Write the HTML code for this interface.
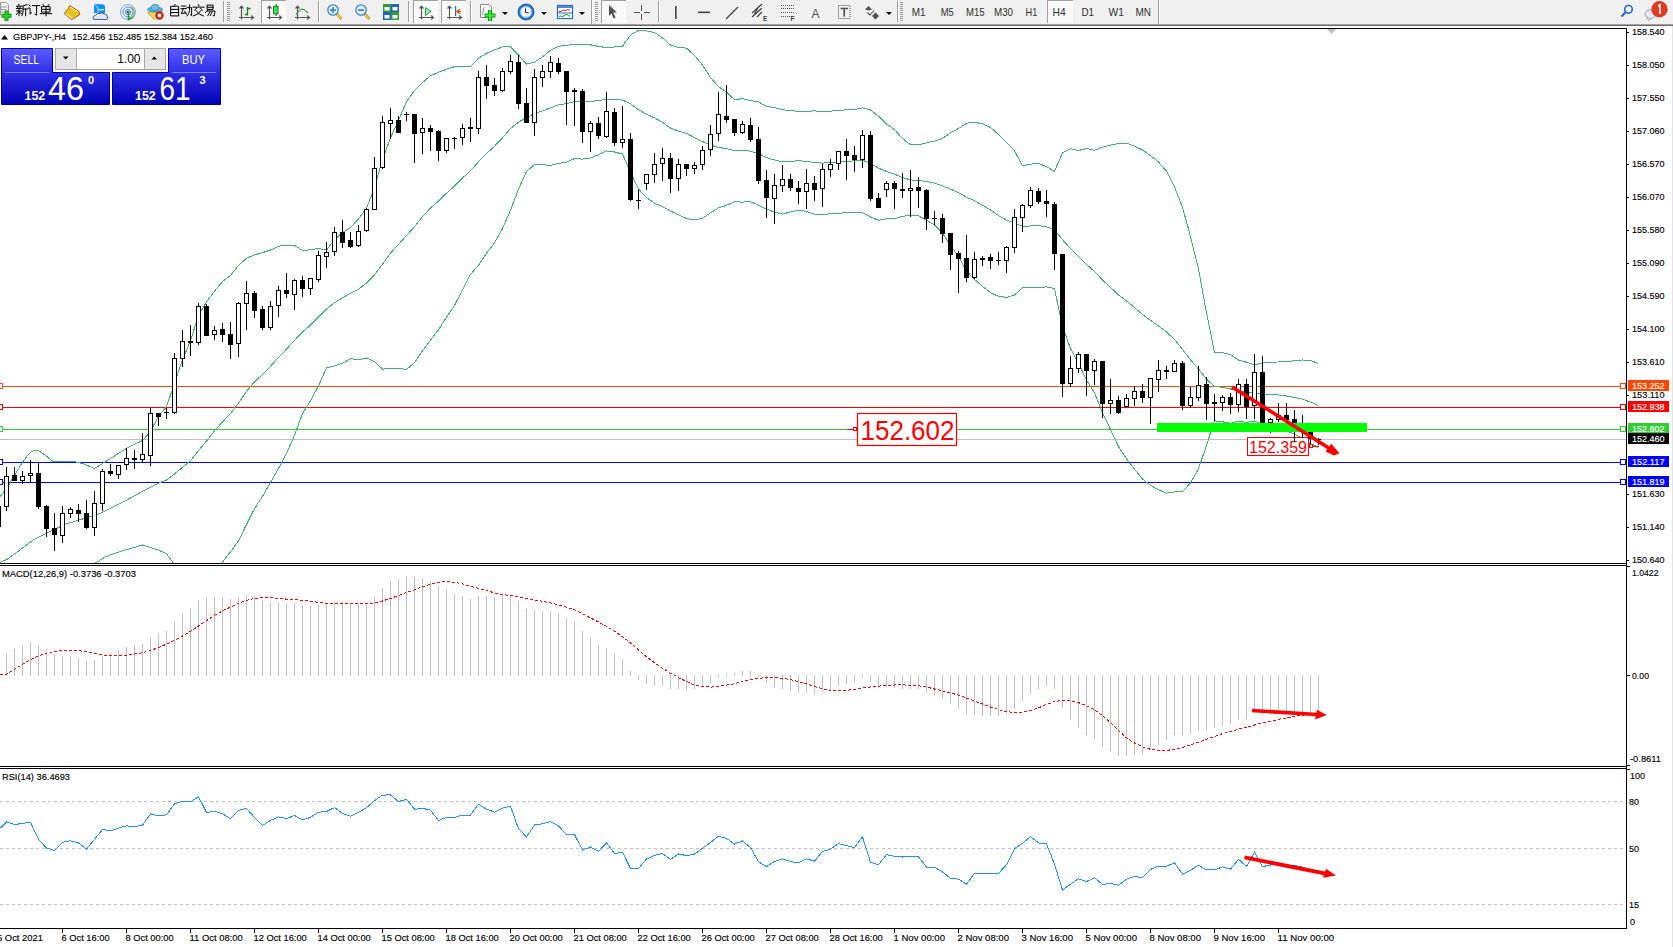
<!DOCTYPE html>
<html><head><meta charset="utf-8"><style>
html,body{margin:0;padding:0;width:1673px;height:947px;overflow:hidden;background:#fff;}
#root{position:relative;width:1673px;height:947px;}
svg{position:absolute;left:0;top:0;}
</style></head><body><div id="root">
<svg width="1673" height="947" viewBox="0 0 1673 947">
<rect x="0" y="0" width="1673" height="947" fill="#ffffff"/>
<defs><clipPath id="cm"><rect x="0" y="29" width="1626" height="534"/></clipPath><clipPath id="cmacd"><rect x="0" y="566" width="1626" height="200"/></clipPath><clipPath id="crsi"><rect x="0" y="769" width="1626" height="159"/></clipPath></defs>
<g clip-path="url(#cm)">
<rect x="0" y="439" width="1626" height="1" fill="#c0c0c0"/>
<rect x="0" y="386" width="1626" height="1" fill="#ff4500"/>
<rect x="-2.5" y="383.5" width="5" height="5" fill="#fff" stroke="#ff4500" stroke-width="1"/>
<rect x="1620.5" y="383.5" width="5" height="5" fill="#fff" stroke="#ff4500" stroke-width="1"/>
<rect x="0" y="407" width="1626" height="1" fill="#ff0000"/>
<rect x="-2.5" y="404.5" width="5" height="5" fill="#fff" stroke="#ff0000" stroke-width="1"/>
<rect x="1620.5" y="404.5" width="5" height="5" fill="#fff" stroke="#ff0000" stroke-width="1"/>
<rect x="0" y="429" width="1626" height="1" fill="#32cd32"/>
<rect x="-2.5" y="426.5" width="5" height="5" fill="#fff" stroke="#32cd32" stroke-width="1"/>
<rect x="1620.5" y="426.5" width="5" height="5" fill="#fff" stroke="#32cd32" stroke-width="1"/>
<rect x="0" y="462" width="1626" height="1" fill="#0000ff"/>
<rect x="-2.5" y="459.5" width="5" height="5" fill="#fff" stroke="#0000ff" stroke-width="1"/>
<rect x="1620.5" y="459.5" width="5" height="5" fill="#fff" stroke="#0000ff" stroke-width="1"/>
<rect x="0" y="482" width="1626" height="1" fill="#0000ff"/>
<rect x="-2.5" y="479.5" width="5" height="5" fill="#fff" stroke="#0000ff" stroke-width="1"/>
<rect x="1620.5" y="479.5" width="5" height="5" fill="#fff" stroke="#0000ff" stroke-width="1"/>
<polyline points="0.0,497.0 10.0,483.0 20.0,466.0 26.6,456.5 31.7,451.4 37.4,450.1 41.8,452.7 53.2,461.5 66.0,461.5 74.8,461.8 82.4,463.4 94.4,468.5 105.0,462.0 127.0,448.0 142.6,440.5 150.0,432.0 158.5,416.4 166.5,406.6 174.5,383.4 182.5,360.0 190.5,340.7 198.5,315.4 206.5,302.0 214.5,291.0 222.5,281.6 230.5,275.6 238.5,265.2 246.5,258.3 254.5,254.8 262.5,252.7 270.5,250.0 278.5,246.3 286.5,245.1 294.5,245.3 302.5,250.5 310.5,249.8 318.5,248.5 326.5,250.2 334.5,239.7 342.5,232.4 350.5,227.5 358.5,218.9 366.5,208.0 374.5,188.0 382.5,159.4 390.5,137.7 398.5,120.4 406.5,101.7 414.5,90.6 422.5,82.6 430.5,75.7 438.5,72.3 446.5,69.2 454.5,66.7 462.5,66.2 470.5,66.8 478.5,58.1 486.5,53.5 494.5,49.9 502.5,46.9 510.5,46.9 518.5,55.1 526.5,64.2 534.5,62.2 542.5,56.8 550.5,50.3 558.5,46.4 566.5,45.2 574.5,44.6 582.5,44.4 590.5,44.8 598.5,46.4 606.5,47.6 614.5,47.0 622.5,46.1 630.5,35.1 638.5,30.4 646.5,30.9 654.5,32.5 662.5,37.9 670.5,45.1 678.5,47.4 686.5,48.2 694.5,55.5 702.5,65.0 710.5,77.5 718.5,86.7 726.5,92.0 734.5,99.7 742.5,98.6 750.5,100.7 758.5,101.8 766.5,106.4 774.5,107.5 782.5,109.7 790.5,110.6 798.5,111.4 806.5,111.2 814.5,110.9 822.5,111.4 830.5,111.2 838.5,110.4 846.5,109.8 854.5,109.6 862.5,107.9 870.5,110.0 878.5,116.2 886.5,123.9 894.5,129.6 902.5,138.6 910.5,144.7 918.5,144.8 926.5,142.8 934.5,141.1 942.5,138.4 950.5,132.9 958.5,128.5 966.5,123.3 974.5,122.1 982.5,123.9 990.5,127.4 998.5,134.6 1006.5,142.8 1014.5,150.7 1022.5,165.6 1030.5,164.2 1038.5,163.4 1046.5,166.6 1054.5,171.3 1062.5,153.0 1070.5,148.6 1078.5,150.5 1086.5,148.5 1094.5,150.3 1102.5,147.2 1110.5,145.1 1118.5,143.4 1126.5,143.1 1134.5,146.2 1142.5,150.0 1150.5,155.6 1158.5,162.0 1166.5,171.2 1174.5,186.8 1182.5,207.3 1190.5,236.7 1198.5,269.1 1206.5,312.7 1214.5,352.2 1222.5,352.5 1230.5,354.6 1238.5,360.0 1246.5,362.3 1254.5,364.8 1262.5,363.0 1270.5,362.1 1278.5,362.0 1286.5,361.3 1294.5,360.9 1302.5,360.0 1310.5,360.5 1318.5,363.5" fill="none" stroke="#3cb371" stroke-width="1" shape-rendering="crispEdges"/>
<polyline points="0.0,562.6 7.6,559.0 33.2,540.0 64.5,524.5 90.0,516.7 101.6,512.8 125.0,501.0 145.0,490.0 158.5,483.2 166.5,480.1 174.5,474.0 182.5,467.2 190.5,460.7 198.5,450.7 206.5,441.0 214.5,430.8 222.5,421.9 230.5,413.6 238.5,403.1 246.5,391.4 254.5,381.8 262.5,374.6 270.5,366.2 278.5,357.4 286.5,349.2 294.5,340.3 302.5,332.0 310.5,325.2 318.5,317.1 326.5,309.1 334.5,302.8 342.5,297.8 350.5,293.1 358.5,289.3 366.5,283.0 374.5,274.8 382.5,264.2 390.5,253.0 398.5,244.5 406.5,235.5 414.5,226.7 422.5,216.7 430.5,208.0 438.5,201.0 446.5,193.2 454.5,186.1 462.5,178.1 470.5,170.6 478.5,161.7 486.5,153.4 494.5,146.3 502.5,137.8 510.5,128.5 518.5,122.1 526.5,117.8 534.5,113.3 542.5,110.8 550.5,107.9 558.5,104.8 566.5,103.7 574.5,101.6 582.5,101.8 590.5,101.3 598.5,100.6 606.5,99.3 614.5,99.5 622.5,100.1 630.5,103.6 638.5,109.8 646.5,114.2 654.5,117.9 662.5,122.2 670.5,128.1 678.5,131.1 686.5,133.3 694.5,137.7 702.5,141.6 710.5,145.2 718.5,147.3 726.5,148.7 734.5,150.7 742.5,150.4 750.5,151.2 758.5,153.4 766.5,157.7 774.5,159.9 782.5,161.9 790.5,161.3 798.5,160.8 806.5,161.3 814.5,162.6 822.5,163.1 830.5,162.4 838.5,161.8 846.5,161.2 854.5,160.9 862.5,160.2 870.5,163.5 878.5,168.2 886.5,171.4 894.5,174.2 902.5,177.5 910.5,179.9 918.5,180.4 926.5,181.4 934.5,183.1 942.5,185.8 950.5,189.2 958.5,192.5 966.5,197.2 974.5,200.7 982.5,205.2 990.5,210.0 998.5,215.5 1006.5,220.1 1014.5,222.9 1022.5,226.4 1030.5,226.0 1038.5,225.7 1046.5,226.7 1054.5,229.9 1062.5,239.6 1070.5,248.6 1078.5,256.7 1086.5,264.4 1094.5,271.5 1102.5,280.0 1110.5,287.3 1118.5,295.0 1126.5,301.0 1134.5,307.6 1142.5,314.5 1150.5,320.4 1158.5,325.9 1166.5,332.1 1174.5,339.4 1182.5,349.4 1190.5,359.8 1198.5,369.0 1206.5,379.0 1214.5,386.5 1222.5,387.2 1230.5,389.0 1238.5,390.6 1246.5,392.3 1254.5,392.9 1262.5,393.9 1270.5,394.8 1278.5,394.9 1286.5,396.0 1294.5,397.5 1302.5,399.1 1310.5,402.1 1318.5,405.5" fill="none" stroke="#3cb371" stroke-width="1" shape-rendering="crispEdges"/>
<polyline points="93.8,564.0 105.5,556.8 120.0,551.5 142.6,545.0 158.5,550.1 166.5,553.6 174.5,564.5 182.5,574.4 190.5,580.7 198.5,586.0 206.5,580.0 214.5,570.6 222.5,562.2 230.5,551.7 238.5,541.0 246.5,524.4 254.5,508.7 262.5,496.5 270.5,482.4 278.5,468.5 286.5,453.4 294.5,435.3 302.5,413.5 310.5,400.7 318.5,385.8 326.5,368.0 334.5,365.8 342.5,363.3 350.5,358.6 358.5,359.7 366.5,358.0 374.5,361.7 382.5,369.1 390.5,368.4 398.5,368.5 406.5,369.4 414.5,362.8 422.5,350.9 430.5,340.2 438.5,329.7 446.5,317.3 454.5,305.5 462.5,290.0 470.5,274.4 478.5,265.4 486.5,253.3 494.5,242.8 502.5,228.6 510.5,210.2 518.5,189.1 526.5,171.4 534.5,164.4 542.5,164.7 550.5,165.5 558.5,163.3 566.5,162.2 574.5,158.5 582.5,159.1 590.5,157.9 598.5,154.8 606.5,150.9 614.5,152.0 622.5,154.0 630.5,172.2 638.5,189.1 646.5,197.6 654.5,203.2 662.5,206.6 670.5,211.1 678.5,214.7 686.5,218.5 694.5,219.9 702.5,218.2 710.5,212.9 718.5,207.9 726.5,205.4 734.5,201.8 742.5,202.1 750.5,201.7 758.5,205.1 766.5,209.1 774.5,212.2 782.5,214.1 790.5,211.9 798.5,210.3 806.5,211.4 814.5,214.2 822.5,214.9 830.5,213.7 838.5,213.3 846.5,212.6 854.5,212.3 862.5,212.6 870.5,217.0 878.5,220.2 886.5,218.8 894.5,218.7 902.5,216.4 910.5,215.1 918.5,215.9 926.5,220.1 934.5,225.1 942.5,233.2 950.5,245.4 958.5,256.5 966.5,271.1 974.5,279.3 982.5,286.5 990.5,292.6 998.5,296.4 1006.5,297.3 1014.5,295.2 1022.5,287.3 1030.5,287.8 1038.5,287.9 1046.5,286.8 1054.5,288.6 1062.5,326.2 1070.5,348.6 1078.5,363.0 1086.5,380.2 1094.5,392.7 1102.5,412.8 1110.5,429.5 1118.5,446.6 1126.5,458.9 1134.5,469.1 1142.5,479.0 1150.5,485.3 1158.5,489.8 1166.5,493.1 1174.5,492.0 1182.5,491.6 1190.5,483.0 1198.5,468.9 1206.5,445.3 1214.5,420.8 1222.5,421.8 1230.5,423.4 1238.5,421.1 1246.5,422.4 1254.5,421.0 1262.5,424.7 1270.5,427.5 1278.5,427.8 1286.5,430.7 1294.5,434.2 1302.5,438.1 1310.5,443.6 1318.5,447.5" fill="none" stroke="#3cb371" stroke-width="1" shape-rendering="crispEdges"/>
<rect x="1247.5" y="437.5" width="61" height="18" fill="#fff" stroke="#ff0000" stroke-width="1"/>
<text x="1249" y="453" font-family="'Liberation Sans', sans-serif" font-size="16" fill="#ff0000" text-anchor="start" font-weight="normal" textLength="58" lengthAdjust="spacingAndGlyphs" >152.359</text>
<g shape-rendering="crispEdges">
<rect x="-2" y="500" width="1" height="30" fill="#000"/>
<rect x="-4" y="506" width="5" height="21" fill="#000"/>
<rect x="6" y="467" width="1" height="44" fill="#000"/>
<rect x="4" y="476" width="5" height="31" fill="#000"/>
<rect x="5" y="477" width="3" height="29" fill="#fff"/>
<rect x="14" y="467" width="1" height="14" fill="#000"/>
<rect x="12" y="475" width="5" height="6" fill="#000"/>
<rect x="22" y="471" width="1" height="13" fill="#000"/>
<rect x="20" y="476" width="5" height="5" fill="#000"/>
<rect x="21" y="477" width="3" height="3" fill="#fff"/>
<rect x="30" y="460" width="1" height="22" fill="#000"/>
<rect x="28" y="473" width="5" height="3" fill="#000"/>
<rect x="29" y="474" width="3" height="1" fill="#fff"/>
<rect x="38" y="462" width="1" height="47" fill="#000"/>
<rect x="36" y="473" width="5" height="34" fill="#000"/>
<rect x="46" y="505" width="1" height="32" fill="#000"/>
<rect x="44" y="506" width="5" height="23" fill="#000"/>
<rect x="54" y="513" width="1" height="38" fill="#000"/>
<rect x="52" y="528" width="5" height="7" fill="#000"/>
<rect x="62" y="506" width="1" height="37" fill="#000"/>
<rect x="60" y="513" width="5" height="23" fill="#000"/>
<rect x="61" y="514" width="3" height="21" fill="#fff"/>
<rect x="70" y="507" width="1" height="11" fill="#000"/>
<rect x="68" y="509" width="5" height="5" fill="#000"/>
<rect x="69" y="510" width="3" height="3" fill="#fff"/>
<rect x="78" y="504" width="1" height="18" fill="#000"/>
<rect x="76" y="510" width="5" height="4" fill="#000"/>
<rect x="86" y="500" width="1" height="29" fill="#000"/>
<rect x="84" y="513" width="5" height="15" fill="#000"/>
<rect x="94" y="491" width="1" height="45" fill="#000"/>
<rect x="92" y="503" width="5" height="25" fill="#000"/>
<rect x="93" y="504" width="3" height="23" fill="#fff"/>
<rect x="102" y="469" width="1" height="42" fill="#000"/>
<rect x="100" y="471" width="5" height="33" fill="#000"/>
<rect x="101" y="472" width="3" height="31" fill="#fff"/>
<rect x="110" y="464" width="1" height="12" fill="#000"/>
<rect x="108" y="471" width="5" height="3" fill="#000"/>
<rect x="118" y="465" width="1" height="14" fill="#000"/>
<rect x="116" y="465" width="5" height="10" fill="#000"/>
<rect x="117" y="466" width="3" height="8" fill="#fff"/>
<rect x="126" y="448" width="1" height="22" fill="#000"/>
<rect x="124" y="458" width="5" height="7" fill="#000"/>
<rect x="125" y="459" width="3" height="5" fill="#fff"/>
<rect x="134" y="450" width="1" height="19" fill="#000"/>
<rect x="132" y="458" width="5" height="2" fill="#000"/>
<rect x="142" y="433" width="1" height="30" fill="#000"/>
<rect x="140" y="454" width="5" height="6" fill="#000"/>
<rect x="141" y="455" width="3" height="4" fill="#fff"/>
<rect x="150" y="408" width="1" height="58" fill="#000"/>
<rect x="148" y="413" width="5" height="43" fill="#000"/>
<rect x="149" y="414" width="3" height="41" fill="#fff"/>
<rect x="158" y="413" width="1" height="13" fill="#000"/>
<rect x="156" y="413" width="5" height="4" fill="#000"/>
<rect x="166" y="408" width="1" height="11" fill="#000"/>
<rect x="164" y="412" width="5" height="1" fill="#000"/>
<rect x="174" y="353" width="1" height="61" fill="#000"/>
<rect x="172" y="358" width="5" height="55" fill="#000"/>
<rect x="173" y="359" width="3" height="53" fill="#fff"/>
<rect x="182" y="330" width="1" height="37" fill="#000"/>
<rect x="180" y="341" width="5" height="18" fill="#000"/>
<rect x="181" y="342" width="3" height="16" fill="#fff"/>
<rect x="190" y="325" width="1" height="31" fill="#000"/>
<rect x="188" y="341" width="5" height="2" fill="#000"/>
<rect x="198" y="303" width="1" height="42" fill="#000"/>
<rect x="196" y="306" width="5" height="37" fill="#000"/>
<rect x="197" y="307" width="3" height="35" fill="#fff"/>
<rect x="206" y="304" width="1" height="32" fill="#000"/>
<rect x="204" y="306" width="5" height="30" fill="#000"/>
<rect x="214" y="326" width="1" height="14" fill="#000"/>
<rect x="212" y="330" width="5" height="5" fill="#000"/>
<rect x="213" y="331" width="3" height="3" fill="#fff"/>
<rect x="222" y="323" width="1" height="19" fill="#000"/>
<rect x="220" y="329" width="5" height="6" fill="#000"/>
<rect x="230" y="322" width="1" height="37" fill="#000"/>
<rect x="228" y="334" width="5" height="11" fill="#000"/>
<rect x="238" y="302" width="1" height="55" fill="#000"/>
<rect x="236" y="303" width="5" height="41" fill="#000"/>
<rect x="237" y="304" width="3" height="39" fill="#fff"/>
<rect x="246" y="281" width="1" height="49" fill="#000"/>
<rect x="244" y="293" width="5" height="11" fill="#000"/>
<rect x="245" y="294" width="3" height="9" fill="#fff"/>
<rect x="254" y="291" width="1" height="27" fill="#000"/>
<rect x="252" y="293" width="5" height="18" fill="#000"/>
<rect x="262" y="306" width="1" height="24" fill="#000"/>
<rect x="260" y="309" width="5" height="19" fill="#000"/>
<rect x="270" y="301" width="1" height="29" fill="#000"/>
<rect x="268" y="306" width="5" height="22" fill="#000"/>
<rect x="269" y="307" width="3" height="20" fill="#fff"/>
<rect x="278" y="286" width="1" height="31" fill="#000"/>
<rect x="276" y="290" width="5" height="16" fill="#000"/>
<rect x="277" y="291" width="3" height="14" fill="#fff"/>
<rect x="286" y="273" width="1" height="25" fill="#000"/>
<rect x="284" y="290" width="5" height="4" fill="#000"/>
<rect x="294" y="279" width="1" height="31" fill="#000"/>
<rect x="292" y="280" width="5" height="15" fill="#000"/>
<rect x="293" y="281" width="3" height="13" fill="#fff"/>
<rect x="302" y="276" width="1" height="21" fill="#000"/>
<rect x="300" y="280" width="5" height="9" fill="#000"/>
<rect x="310" y="278" width="1" height="17" fill="#000"/>
<rect x="308" y="278" width="5" height="11" fill="#000"/>
<rect x="309" y="279" width="3" height="9" fill="#fff"/>
<rect x="318" y="251" width="1" height="31" fill="#000"/>
<rect x="316" y="255" width="5" height="25" fill="#000"/>
<rect x="317" y="256" width="3" height="23" fill="#fff"/>
<rect x="326" y="242" width="1" height="26" fill="#000"/>
<rect x="324" y="252" width="5" height="5" fill="#000"/>
<rect x="325" y="253" width="3" height="3" fill="#fff"/>
<rect x="334" y="227" width="1" height="29" fill="#000"/>
<rect x="332" y="232" width="5" height="20" fill="#000"/>
<rect x="333" y="233" width="3" height="18" fill="#fff"/>
<rect x="342" y="220" width="1" height="28" fill="#000"/>
<rect x="340" y="232" width="5" height="11" fill="#000"/>
<rect x="350" y="232" width="1" height="16" fill="#000"/>
<rect x="348" y="240" width="5" height="7" fill="#000"/>
<rect x="358" y="225" width="1" height="22" fill="#000"/>
<rect x="356" y="231" width="5" height="15" fill="#000"/>
<rect x="357" y="232" width="3" height="13" fill="#fff"/>
<rect x="366" y="208" width="1" height="24" fill="#000"/>
<rect x="364" y="209" width="5" height="22" fill="#000"/>
<rect x="365" y="210" width="3" height="20" fill="#fff"/>
<rect x="374" y="157" width="1" height="53" fill="#000"/>
<rect x="372" y="168" width="5" height="42" fill="#000"/>
<rect x="373" y="169" width="3" height="40" fill="#fff"/>
<rect x="382" y="116" width="1" height="53" fill="#000"/>
<rect x="380" y="122" width="5" height="46" fill="#000"/>
<rect x="381" y="123" width="3" height="44" fill="#fff"/>
<rect x="390" y="108" width="1" height="31" fill="#000"/>
<rect x="388" y="120" width="5" height="4" fill="#000"/>
<rect x="389" y="121" width="3" height="2" fill="#fff"/>
<rect x="398" y="116" width="1" height="17" fill="#000"/>
<rect x="396" y="120" width="5" height="13" fill="#000"/>
<rect x="406" y="112" width="1" height="9" fill="#000"/>
<rect x="404" y="114" width="5" height="1" fill="#000"/>
<rect x="414" y="114" width="1" height="49" fill="#000"/>
<rect x="412" y="114" width="5" height="20" fill="#000"/>
<rect x="422" y="118" width="1" height="36" fill="#000"/>
<rect x="420" y="128" width="5" height="5" fill="#000"/>
<rect x="421" y="129" width="3" height="3" fill="#fff"/>
<rect x="430" y="125" width="1" height="26" fill="#000"/>
<rect x="428" y="128" width="5" height="4" fill="#000"/>
<rect x="438" y="130" width="1" height="31" fill="#000"/>
<rect x="436" y="131" width="5" height="20" fill="#000"/>
<rect x="446" y="138" width="1" height="15" fill="#000"/>
<rect x="444" y="138" width="5" height="13" fill="#000"/>
<rect x="445" y="139" width="3" height="11" fill="#fff"/>
<rect x="454" y="137" width="1" height="12" fill="#000"/>
<rect x="452" y="138" width="5" height="1" fill="#000"/>
<rect x="462" y="124" width="1" height="21" fill="#000"/>
<rect x="460" y="128" width="5" height="10" fill="#000"/>
<rect x="461" y="129" width="3" height="8" fill="#fff"/>
<rect x="470" y="118" width="1" height="24" fill="#000"/>
<rect x="468" y="127" width="5" height="2" fill="#000"/>
<rect x="478" y="71" width="1" height="63" fill="#000"/>
<rect x="476" y="77" width="5" height="52" fill="#000"/>
<rect x="477" y="78" width="3" height="50" fill="#fff"/>
<rect x="486" y="65" width="1" height="34" fill="#000"/>
<rect x="484" y="77" width="5" height="9" fill="#000"/>
<rect x="494" y="78" width="1" height="18" fill="#000"/>
<rect x="492" y="85" width="5" height="6" fill="#000"/>
<rect x="502" y="68" width="1" height="24" fill="#000"/>
<rect x="500" y="71" width="5" height="20" fill="#000"/>
<rect x="501" y="72" width="3" height="18" fill="#fff"/>
<rect x="510" y="55" width="1" height="19" fill="#000"/>
<rect x="508" y="61" width="5" height="11" fill="#000"/>
<rect x="509" y="62" width="3" height="9" fill="#fff"/>
<rect x="518" y="55" width="1" height="54" fill="#000"/>
<rect x="516" y="62" width="5" height="42" fill="#000"/>
<rect x="526" y="88" width="1" height="35" fill="#000"/>
<rect x="524" y="103" width="5" height="20" fill="#000"/>
<rect x="534" y="69" width="1" height="67" fill="#000"/>
<rect x="532" y="77" width="5" height="46" fill="#000"/>
<rect x="533" y="78" width="3" height="44" fill="#fff"/>
<rect x="542" y="65" width="1" height="22" fill="#000"/>
<rect x="540" y="71" width="5" height="7" fill="#000"/>
<rect x="541" y="72" width="3" height="5" fill="#fff"/>
<rect x="550" y="56" width="1" height="22" fill="#000"/>
<rect x="548" y="62" width="5" height="10" fill="#000"/>
<rect x="549" y="63" width="3" height="8" fill="#fff"/>
<rect x="558" y="58" width="1" height="16" fill="#000"/>
<rect x="556" y="63" width="5" height="9" fill="#000"/>
<rect x="566" y="71" width="1" height="54" fill="#000"/>
<rect x="564" y="71" width="5" height="21" fill="#000"/>
<rect x="574" y="88" width="1" height="38" fill="#000"/>
<rect x="572" y="90" width="5" height="2" fill="#000"/>
<rect x="582" y="89" width="1" height="54" fill="#000"/>
<rect x="580" y="91" width="5" height="41" fill="#000"/>
<rect x="590" y="121" width="1" height="31" fill="#000"/>
<rect x="588" y="123" width="5" height="9" fill="#000"/>
<rect x="589" y="124" width="3" height="7" fill="#fff"/>
<rect x="598" y="117" width="1" height="22" fill="#000"/>
<rect x="596" y="123" width="5" height="13" fill="#000"/>
<rect x="606" y="92" width="1" height="46" fill="#000"/>
<rect x="604" y="111" width="5" height="26" fill="#000"/>
<rect x="605" y="112" width="3" height="24" fill="#fff"/>
<rect x="614" y="108" width="1" height="38" fill="#000"/>
<rect x="612" y="112" width="5" height="31" fill="#000"/>
<rect x="622" y="106" width="1" height="42" fill="#000"/>
<rect x="620" y="139" width="5" height="4" fill="#000"/>
<rect x="621" y="140" width="3" height="2" fill="#fff"/>
<rect x="630" y="133" width="1" height="68" fill="#000"/>
<rect x="628" y="139" width="5" height="61" fill="#000"/>
<rect x="638" y="190" width="1" height="19" fill="#000"/>
<rect x="636" y="200" width="5" height="1" fill="#000"/>
<rect x="646" y="174" width="1" height="16" fill="#000"/>
<rect x="644" y="174" width="5" height="10" fill="#000"/>
<rect x="645" y="175" width="3" height="8" fill="#fff"/>
<rect x="654" y="153" width="1" height="30" fill="#000"/>
<rect x="652" y="164" width="5" height="11" fill="#000"/>
<rect x="653" y="165" width="3" height="9" fill="#fff"/>
<rect x="662" y="148" width="1" height="33" fill="#000"/>
<rect x="660" y="158" width="5" height="6" fill="#000"/>
<rect x="661" y="159" width="3" height="4" fill="#fff"/>
<rect x="670" y="153" width="1" height="40" fill="#000"/>
<rect x="668" y="158" width="5" height="21" fill="#000"/>
<rect x="678" y="159" width="1" height="32" fill="#000"/>
<rect x="676" y="164" width="5" height="15" fill="#000"/>
<rect x="677" y="165" width="3" height="13" fill="#fff"/>
<rect x="686" y="164" width="1" height="12" fill="#000"/>
<rect x="684" y="164" width="5" height="5" fill="#000"/>
<rect x="694" y="162" width="1" height="12" fill="#000"/>
<rect x="692" y="165" width="5" height="4" fill="#000"/>
<rect x="693" y="166" width="3" height="2" fill="#fff"/>
<rect x="702" y="146" width="1" height="24" fill="#000"/>
<rect x="700" y="150" width="5" height="15" fill="#000"/>
<rect x="701" y="151" width="3" height="13" fill="#fff"/>
<rect x="710" y="125" width="1" height="31" fill="#000"/>
<rect x="708" y="134" width="5" height="16" fill="#000"/>
<rect x="709" y="135" width="3" height="14" fill="#fff"/>
<rect x="718" y="92" width="1" height="49" fill="#000"/>
<rect x="716" y="114" width="5" height="20" fill="#000"/>
<rect x="717" y="115" width="3" height="18" fill="#fff"/>
<rect x="726" y="85" width="1" height="38" fill="#000"/>
<rect x="724" y="116" width="5" height="4" fill="#000"/>
<rect x="734" y="119" width="1" height="17" fill="#000"/>
<rect x="732" y="119" width="5" height="14" fill="#000"/>
<rect x="742" y="121" width="1" height="13" fill="#000"/>
<rect x="740" y="124" width="5" height="9" fill="#000"/>
<rect x="741" y="125" width="3" height="7" fill="#fff"/>
<rect x="750" y="118" width="1" height="24" fill="#000"/>
<rect x="748" y="125" width="5" height="15" fill="#000"/>
<rect x="758" y="127" width="1" height="57" fill="#000"/>
<rect x="756" y="139" width="5" height="42" fill="#000"/>
<rect x="766" y="170" width="1" height="48" fill="#000"/>
<rect x="764" y="180" width="5" height="18" fill="#000"/>
<rect x="774" y="174" width="1" height="50" fill="#000"/>
<rect x="772" y="185" width="5" height="14" fill="#000"/>
<rect x="773" y="186" width="3" height="12" fill="#fff"/>
<rect x="782" y="165" width="1" height="27" fill="#000"/>
<rect x="780" y="179" width="5" height="7" fill="#000"/>
<rect x="781" y="180" width="3" height="5" fill="#fff"/>
<rect x="790" y="174" width="1" height="17" fill="#000"/>
<rect x="788" y="179" width="5" height="9" fill="#000"/>
<rect x="798" y="181" width="1" height="23" fill="#000"/>
<rect x="796" y="188" width="5" height="4" fill="#000"/>
<rect x="806" y="169" width="1" height="40" fill="#000"/>
<rect x="804" y="183" width="5" height="9" fill="#000"/>
<rect x="805" y="184" width="3" height="7" fill="#fff"/>
<rect x="814" y="176" width="1" height="25" fill="#000"/>
<rect x="812" y="183" width="5" height="7" fill="#000"/>
<rect x="822" y="164" width="1" height="43" fill="#000"/>
<rect x="820" y="169" width="5" height="20" fill="#000"/>
<rect x="821" y="170" width="3" height="18" fill="#fff"/>
<rect x="830" y="159" width="1" height="18" fill="#000"/>
<rect x="828" y="164" width="5" height="6" fill="#000"/>
<rect x="829" y="165" width="3" height="4" fill="#fff"/>
<rect x="838" y="151" width="1" height="19" fill="#000"/>
<rect x="836" y="151" width="5" height="13" fill="#000"/>
<rect x="837" y="152" width="3" height="11" fill="#fff"/>
<rect x="846" y="139" width="1" height="41" fill="#000"/>
<rect x="844" y="151" width="5" height="5" fill="#000"/>
<rect x="854" y="146" width="1" height="26" fill="#000"/>
<rect x="852" y="155" width="5" height="5" fill="#000"/>
<rect x="862" y="130" width="1" height="38" fill="#000"/>
<rect x="860" y="135" width="5" height="25" fill="#000"/>
<rect x="861" y="136" width="3" height="23" fill="#fff"/>
<rect x="870" y="131" width="1" height="70" fill="#000"/>
<rect x="868" y="135" width="5" height="64" fill="#000"/>
<rect x="878" y="193" width="1" height="15" fill="#000"/>
<rect x="876" y="198" width="5" height="10" fill="#000"/>
<rect x="886" y="181" width="1" height="16" fill="#000"/>
<rect x="884" y="183" width="5" height="7" fill="#000"/>
<rect x="885" y="184" width="3" height="5" fill="#fff"/>
<rect x="894" y="181" width="1" height="28" fill="#000"/>
<rect x="892" y="183" width="5" height="6" fill="#000"/>
<rect x="902" y="173" width="1" height="25" fill="#000"/>
<rect x="900" y="189" width="5" height="2" fill="#000"/>
<rect x="910" y="170" width="1" height="47" fill="#000"/>
<rect x="908" y="188" width="5" height="3" fill="#000"/>
<rect x="909" y="189" width="3" height="1" fill="#fff"/>
<rect x="918" y="177" width="1" height="31" fill="#000"/>
<rect x="916" y="187" width="5" height="4" fill="#000"/>
<rect x="926" y="189" width="1" height="41" fill="#000"/>
<rect x="924" y="190" width="5" height="29" fill="#000"/>
<rect x="934" y="211" width="1" height="14" fill="#000"/>
<rect x="932" y="218" width="5" height="1" fill="#000"/>
<rect x="942" y="214" width="1" height="29" fill="#000"/>
<rect x="940" y="218" width="5" height="16" fill="#000"/>
<rect x="950" y="233" width="1" height="37" fill="#000"/>
<rect x="948" y="233" width="5" height="22" fill="#000"/>
<rect x="958" y="251" width="1" height="42" fill="#000"/>
<rect x="956" y="253" width="5" height="6" fill="#000"/>
<rect x="966" y="235" width="1" height="47" fill="#000"/>
<rect x="964" y="258" width="5" height="20" fill="#000"/>
<rect x="974" y="252" width="1" height="27" fill="#000"/>
<rect x="972" y="259" width="5" height="19" fill="#000"/>
<rect x="973" y="260" width="3" height="17" fill="#fff"/>
<rect x="982" y="256" width="1" height="10" fill="#000"/>
<rect x="980" y="258" width="5" height="2" fill="#000"/>
<rect x="990" y="254" width="1" height="15" fill="#000"/>
<rect x="988" y="257" width="5" height="4" fill="#000"/>
<rect x="998" y="252" width="1" height="13" fill="#000"/>
<rect x="996" y="260" width="5" height="1" fill="#000"/>
<rect x="1006" y="246" width="1" height="27" fill="#000"/>
<rect x="1004" y="247" width="5" height="14" fill="#000"/>
<rect x="1005" y="248" width="3" height="12" fill="#fff"/>
<rect x="1014" y="209" width="1" height="44" fill="#000"/>
<rect x="1012" y="217" width="5" height="31" fill="#000"/>
<rect x="1013" y="218" width="3" height="29" fill="#fff"/>
<rect x="1022" y="204" width="1" height="28" fill="#000"/>
<rect x="1020" y="205" width="5" height="13" fill="#000"/>
<rect x="1021" y="206" width="3" height="11" fill="#fff"/>
<rect x="1030" y="187" width="1" height="21" fill="#000"/>
<rect x="1028" y="190" width="5" height="16" fill="#000"/>
<rect x="1029" y="191" width="3" height="14" fill="#fff"/>
<rect x="1038" y="188" width="1" height="16" fill="#000"/>
<rect x="1036" y="191" width="5" height="11" fill="#000"/>
<rect x="1046" y="190" width="1" height="27" fill="#000"/>
<rect x="1044" y="201" width="5" height="3" fill="#000"/>
<rect x="1054" y="202" width="1" height="68" fill="#000"/>
<rect x="1052" y="204" width="5" height="50" fill="#000"/>
<rect x="1062" y="254" width="1" height="143" fill="#000"/>
<rect x="1060" y="254" width="5" height="130" fill="#000"/>
<rect x="1070" y="356" width="1" height="31" fill="#000"/>
<rect x="1068" y="368" width="5" height="16" fill="#000"/>
<rect x="1069" y="369" width="3" height="14" fill="#fff"/>
<rect x="1078" y="352" width="1" height="21" fill="#000"/>
<rect x="1076" y="354" width="5" height="15" fill="#000"/>
<rect x="1077" y="355" width="3" height="13" fill="#fff"/>
<rect x="1086" y="354" width="1" height="42" fill="#000"/>
<rect x="1084" y="354" width="5" height="17" fill="#000"/>
<rect x="1094" y="359" width="1" height="26" fill="#000"/>
<rect x="1092" y="361" width="5" height="10" fill="#000"/>
<rect x="1093" y="362" width="3" height="8" fill="#fff"/>
<rect x="1102" y="361" width="1" height="57" fill="#000"/>
<rect x="1100" y="361" width="5" height="43" fill="#000"/>
<rect x="1110" y="379" width="1" height="35" fill="#000"/>
<rect x="1108" y="400" width="5" height="4" fill="#000"/>
<rect x="1109" y="401" width="3" height="2" fill="#fff"/>
<rect x="1118" y="396" width="1" height="18" fill="#000"/>
<rect x="1116" y="400" width="5" height="13" fill="#000"/>
<rect x="1126" y="394" width="1" height="13" fill="#000"/>
<rect x="1124" y="398" width="5" height="9" fill="#000"/>
<rect x="1125" y="399" width="3" height="7" fill="#fff"/>
<rect x="1134" y="386" width="1" height="20" fill="#000"/>
<rect x="1132" y="391" width="5" height="8" fill="#000"/>
<rect x="1133" y="392" width="3" height="6" fill="#fff"/>
<rect x="1142" y="384" width="1" height="19" fill="#000"/>
<rect x="1140" y="391" width="5" height="7" fill="#000"/>
<rect x="1150" y="378" width="1" height="46" fill="#000"/>
<rect x="1148" y="378" width="5" height="20" fill="#000"/>
<rect x="1149" y="379" width="3" height="18" fill="#fff"/>
<rect x="1158" y="360" width="1" height="32" fill="#000"/>
<rect x="1156" y="370" width="5" height="10" fill="#000"/>
<rect x="1157" y="371" width="3" height="8" fill="#fff"/>
<rect x="1166" y="366" width="1" height="13" fill="#000"/>
<rect x="1164" y="370" width="5" height="2" fill="#000"/>
<rect x="1174" y="360" width="1" height="12" fill="#000"/>
<rect x="1172" y="363" width="5" height="9" fill="#000"/>
<rect x="1173" y="364" width="3" height="7" fill="#fff"/>
<rect x="1182" y="361" width="1" height="49" fill="#000"/>
<rect x="1180" y="363" width="5" height="43" fill="#000"/>
<rect x="1190" y="387" width="1" height="21" fill="#000"/>
<rect x="1188" y="397" width="5" height="9" fill="#000"/>
<rect x="1189" y="398" width="3" height="7" fill="#fff"/>
<rect x="1198" y="366" width="1" height="35" fill="#000"/>
<rect x="1196" y="385" width="5" height="13" fill="#000"/>
<rect x="1197" y="386" width="3" height="11" fill="#fff"/>
<rect x="1206" y="377" width="1" height="43" fill="#000"/>
<rect x="1204" y="384" width="5" height="20" fill="#000"/>
<rect x="1214" y="394" width="1" height="27" fill="#000"/>
<rect x="1212" y="402" width="5" height="2" fill="#000"/>
<rect x="1222" y="395" width="1" height="16" fill="#000"/>
<rect x="1220" y="397" width="5" height="6" fill="#000"/>
<rect x="1221" y="398" width="3" height="4" fill="#fff"/>
<rect x="1230" y="393" width="1" height="21" fill="#000"/>
<rect x="1228" y="397" width="5" height="8" fill="#000"/>
<rect x="1238" y="379" width="1" height="33" fill="#000"/>
<rect x="1236" y="384" width="5" height="21" fill="#000"/>
<rect x="1237" y="385" width="3" height="19" fill="#fff"/>
<rect x="1246" y="379" width="1" height="40" fill="#000"/>
<rect x="1244" y="384" width="5" height="23" fill="#000"/>
<rect x="1254" y="354" width="1" height="65" fill="#000"/>
<rect x="1252" y="372" width="5" height="34" fill="#000"/>
<rect x="1253" y="373" width="3" height="32" fill="#fff"/>
<rect x="1262" y="356" width="1" height="67" fill="#000"/>
<rect x="1260" y="372" width="5" height="51" fill="#000"/>
<rect x="1270" y="418" width="1" height="15" fill="#000"/>
<rect x="1268" y="419" width="5" height="4" fill="#000"/>
<rect x="1269" y="420" width="3" height="2" fill="#fff"/>
<rect x="1278" y="403" width="1" height="19" fill="#000"/>
<rect x="1276" y="415" width="5" height="5" fill="#000"/>
<rect x="1277" y="416" width="3" height="3" fill="#fff"/>
<rect x="1286" y="403" width="1" height="17" fill="#000"/>
<rect x="1284" y="415" width="5" height="5" fill="#000"/>
<rect x="1294" y="410" width="1" height="32" fill="#000"/>
<rect x="1292" y="419" width="5" height="4" fill="#000"/>
<rect x="1302" y="415" width="1" height="23" fill="#000"/>
<rect x="1300" y="423" width="5" height="5" fill="#000"/>
<rect x="1310" y="428" width="1" height="17" fill="#000"/>
<rect x="1308" y="428" width="5" height="11" fill="#000"/>
<rect x="1318" y="438" width="1" height="7" fill="#000"/>
<rect x="1316" y="439" width="5" height="1" fill="#000"/>
</g>
<rect x="1157" y="423" width="210" height="9" fill="#00ff00"/>
<line x1="1232" y1="387" x2="1332" y2="450" stroke="#ff0000" stroke-width="3.6"/>
<polygon points="1325.5,451.5 1331.2,443.8 1339.5,453.3 1334,455.5" fill="#ff0000"/>
<rect x="1309.5" y="444.5" width="3" height="3" fill="#fff" stroke="#ff0000" stroke-width="1"/>
<rect x="1312" y="446" width="7" height="1" fill="#ff0000"/>
<rect x="857.5" y="413.5" width="99" height="32" fill="#fff" stroke="#ff0000" stroke-width="1.2"/>
<text x="860.5" y="440" font-family="'Liberation Sans', sans-serif" font-size="28.3" fill="#ff0000" text-anchor="start" font-weight="normal" textLength="94" lengthAdjust="spacingAndGlyphs" >152.602</text>
<rect x="847" y="429" width="8" height="1" fill="#ff0000"/>
<rect x="853.5" y="427.5" width="3" height="3" fill="#fff" stroke="#ff0000" stroke-width="1"/>
<polygon points="1327,29 1336,29 1331.5,34" fill="#c0c0c0"/>
</g>
<g clip-path="url(#cmacd)" shape-rendering="crispEdges">
<rect x="6" y="654" width="1" height="22" fill="#c0c0c0"/>
<rect x="14" y="649" width="1" height="27" fill="#c0c0c0"/>
<rect x="22" y="646" width="1" height="30" fill="#c0c0c0"/>
<rect x="30" y="642" width="1" height="34" fill="#c0c0c0"/>
<rect x="38" y="645" width="1" height="31" fill="#c0c0c0"/>
<rect x="46" y="649" width="1" height="27" fill="#c0c0c0"/>
<rect x="54" y="654" width="1" height="22" fill="#c0c0c0"/>
<rect x="62" y="656" width="1" height="20" fill="#c0c0c0"/>
<rect x="70" y="656" width="1" height="20" fill="#c0c0c0"/>
<rect x="78" y="658" width="1" height="18" fill="#c0c0c0"/>
<rect x="86" y="661" width="1" height="15" fill="#c0c0c0"/>
<rect x="94" y="660" width="1" height="16" fill="#c0c0c0"/>
<rect x="102" y="656" width="1" height="20" fill="#c0c0c0"/>
<rect x="110" y="653" width="1" height="23" fill="#c0c0c0"/>
<rect x="118" y="650" width="1" height="26" fill="#c0c0c0"/>
<rect x="126" y="647" width="1" height="29" fill="#c0c0c0"/>
<rect x="134" y="645" width="1" height="31" fill="#c0c0c0"/>
<rect x="142" y="644" width="1" height="32" fill="#c0c0c0"/>
<rect x="150" y="638" width="1" height="38" fill="#c0c0c0"/>
<rect x="158" y="634" width="1" height="42" fill="#c0c0c0"/>
<rect x="166" y="631" width="1" height="45" fill="#c0c0c0"/>
<rect x="174" y="622" width="1" height="54" fill="#c0c0c0"/>
<rect x="182" y="614" width="1" height="62" fill="#c0c0c0"/>
<rect x="190" y="608" width="1" height="68" fill="#c0c0c0"/>
<rect x="198" y="600" width="1" height="76" fill="#c0c0c0"/>
<rect x="206" y="598" width="1" height="78" fill="#c0c0c0"/>
<rect x="214" y="597" width="1" height="79" fill="#c0c0c0"/>
<rect x="222" y="597" width="1" height="79" fill="#c0c0c0"/>
<rect x="230" y="599" width="1" height="77" fill="#c0c0c0"/>
<rect x="238" y="597" width="1" height="79" fill="#c0c0c0"/>
<rect x="246" y="595" width="1" height="81" fill="#c0c0c0"/>
<rect x="254" y="596" width="1" height="80" fill="#c0c0c0"/>
<rect x="262" y="600" width="1" height="76" fill="#c0c0c0"/>
<rect x="270" y="602" width="1" height="74" fill="#c0c0c0"/>
<rect x="278" y="602" width="1" height="74" fill="#c0c0c0"/>
<rect x="286" y="603" width="1" height="73" fill="#c0c0c0"/>
<rect x="294" y="603" width="1" height="73" fill="#c0c0c0"/>
<rect x="302" y="605" width="1" height="71" fill="#c0c0c0"/>
<rect x="310" y="606" width="1" height="70" fill="#c0c0c0"/>
<rect x="318" y="605" width="1" height="71" fill="#c0c0c0"/>
<rect x="326" y="604" width="1" height="72" fill="#c0c0c0"/>
<rect x="334" y="602" width="1" height="74" fill="#c0c0c0"/>
<rect x="342" y="602" width="1" height="74" fill="#c0c0c0"/>
<rect x="350" y="604" width="1" height="72" fill="#c0c0c0"/>
<rect x="358" y="604" width="1" height="72" fill="#c0c0c0"/>
<rect x="366" y="603" width="1" height="73" fill="#c0c0c0"/>
<rect x="374" y="597" width="1" height="79" fill="#c0c0c0"/>
<rect x="382" y="588" width="1" height="88" fill="#c0c0c0"/>
<rect x="390" y="581" width="1" height="95" fill="#c0c0c0"/>
<rect x="398" y="579" width="1" height="97" fill="#c0c0c0"/>
<rect x="406" y="576" width="1" height="100" fill="#c0c0c0"/>
<rect x="414" y="577" width="1" height="99" fill="#c0c0c0"/>
<rect x="422" y="578" width="1" height="98" fill="#c0c0c0"/>
<rect x="430" y="581" width="1" height="95" fill="#c0c0c0"/>
<rect x="438" y="586" width="1" height="90" fill="#c0c0c0"/>
<rect x="446" y="590" width="1" height="86" fill="#c0c0c0"/>
<rect x="454" y="594" width="1" height="82" fill="#c0c0c0"/>
<rect x="462" y="596" width="1" height="80" fill="#c0c0c0"/>
<rect x="470" y="599" width="1" height="77" fill="#c0c0c0"/>
<rect x="478" y="596" width="1" height="80" fill="#c0c0c0"/>
<rect x="486" y="596" width="1" height="80" fill="#c0c0c0"/>
<rect x="494" y="597" width="1" height="79" fill="#c0c0c0"/>
<rect x="502" y="596" width="1" height="80" fill="#c0c0c0"/>
<rect x="510" y="596" width="1" height="80" fill="#c0c0c0"/>
<rect x="518" y="601" width="1" height="75" fill="#c0c0c0"/>
<rect x="526" y="609" width="1" height="67" fill="#c0c0c0"/>
<rect x="534" y="610" width="1" height="66" fill="#c0c0c0"/>
<rect x="542" y="611" width="1" height="65" fill="#c0c0c0"/>
<rect x="550" y="611" width="1" height="65" fill="#c0c0c0"/>
<rect x="558" y="613" width="1" height="63" fill="#c0c0c0"/>
<rect x="566" y="618" width="1" height="58" fill="#c0c0c0"/>
<rect x="574" y="622" width="1" height="54" fill="#c0c0c0"/>
<rect x="582" y="631" width="1" height="45" fill="#c0c0c0"/>
<rect x="590" y="638" width="1" height="38" fill="#c0c0c0"/>
<rect x="598" y="645" width="1" height="31" fill="#c0c0c0"/>
<rect x="606" y="648" width="1" height="28" fill="#c0c0c0"/>
<rect x="614" y="654" width="1" height="22" fill="#c0c0c0"/>
<rect x="622" y="659" width="1" height="17" fill="#c0c0c0"/>
<rect x="630" y="671" width="1" height="5" fill="#c0c0c0"/>
<rect x="638" y="675" width="1" height="5" fill="#c0c0c0"/>
<rect x="646" y="675" width="1" height="9" fill="#c0c0c0"/>
<rect x="654" y="675" width="1" height="11" fill="#c0c0c0"/>
<rect x="662" y="675" width="1" height="11" fill="#c0c0c0"/>
<rect x="670" y="675" width="1" height="14" fill="#c0c0c0"/>
<rect x="678" y="675" width="1" height="14" fill="#c0c0c0"/>
<rect x="686" y="675" width="1" height="15" fill="#c0c0c0"/>
<rect x="694" y="675" width="1" height="14" fill="#c0c0c0"/>
<rect x="702" y="675" width="1" height="12" fill="#c0c0c0"/>
<rect x="710" y="675" width="1" height="8" fill="#c0c0c0"/>
<rect x="718" y="675" width="1" height="3" fill="#c0c0c0"/>
<rect x="726" y="674" width="1" height="2" fill="#c0c0c0"/>
<rect x="734" y="673" width="1" height="3" fill="#c0c0c0"/>
<rect x="742" y="671" width="1" height="5" fill="#c0c0c0"/>
<rect x="750" y="671" width="1" height="5" fill="#c0c0c0"/>
<rect x="758" y="675" width="1" height="2" fill="#c0c0c0"/>
<rect x="766" y="675" width="1" height="8" fill="#c0c0c0"/>
<rect x="774" y="675" width="1" height="12" fill="#c0c0c0"/>
<rect x="782" y="675" width="1" height="14" fill="#c0c0c0"/>
<rect x="790" y="675" width="1" height="16" fill="#c0c0c0"/>
<rect x="798" y="675" width="1" height="18" fill="#c0c0c0"/>
<rect x="806" y="675" width="1" height="18" fill="#c0c0c0"/>
<rect x="814" y="675" width="1" height="19" fill="#c0c0c0"/>
<rect x="822" y="675" width="1" height="17" fill="#c0c0c0"/>
<rect x="830" y="675" width="1" height="15" fill="#c0c0c0"/>
<rect x="838" y="675" width="1" height="11" fill="#c0c0c0"/>
<rect x="846" y="675" width="1" height="9" fill="#c0c0c0"/>
<rect x="854" y="675" width="1" height="7" fill="#c0c0c0"/>
<rect x="862" y="675" width="1" height="3" fill="#c0c0c0"/>
<rect x="870" y="675" width="1" height="7" fill="#c0c0c0"/>
<rect x="878" y="675" width="1" height="12" fill="#c0c0c0"/>
<rect x="886" y="675" width="1" height="12" fill="#c0c0c0"/>
<rect x="894" y="675" width="1" height="13" fill="#c0c0c0"/>
<rect x="902" y="675" width="1" height="14" fill="#c0c0c0"/>
<rect x="910" y="675" width="1" height="14" fill="#c0c0c0"/>
<rect x="918" y="675" width="1" height="14" fill="#c0c0c0"/>
<rect x="926" y="675" width="1" height="18" fill="#c0c0c0"/>
<rect x="934" y="675" width="1" height="21" fill="#c0c0c0"/>
<rect x="942" y="675" width="1" height="24" fill="#c0c0c0"/>
<rect x="950" y="675" width="1" height="29" fill="#c0c0c0"/>
<rect x="958" y="675" width="1" height="34" fill="#c0c0c0"/>
<rect x="966" y="675" width="1" height="39" fill="#c0c0c0"/>
<rect x="974" y="675" width="1" height="40" fill="#c0c0c0"/>
<rect x="982" y="675" width="1" height="41" fill="#c0c0c0"/>
<rect x="990" y="675" width="1" height="41" fill="#c0c0c0"/>
<rect x="998" y="675" width="1" height="41" fill="#c0c0c0"/>
<rect x="1006" y="675" width="1" height="39" fill="#c0c0c0"/>
<rect x="1014" y="675" width="1" height="33" fill="#c0c0c0"/>
<rect x="1022" y="675" width="1" height="26" fill="#c0c0c0"/>
<rect x="1030" y="675" width="1" height="19" fill="#c0c0c0"/>
<rect x="1038" y="675" width="1" height="14" fill="#c0c0c0"/>
<rect x="1046" y="675" width="1" height="11" fill="#c0c0c0"/>
<rect x="1054" y="675" width="1" height="14" fill="#c0c0c0"/>
<rect x="1062" y="675" width="1" height="33" fill="#c0c0c0"/>
<rect x="1070" y="675" width="1" height="45" fill="#c0c0c0"/>
<rect x="1078" y="675" width="1" height="53" fill="#c0c0c0"/>
<rect x="1086" y="675" width="1" height="60" fill="#c0c0c0"/>
<rect x="1094" y="675" width="1" height="64" fill="#c0c0c0"/>
<rect x="1102" y="675" width="1" height="72" fill="#c0c0c0"/>
<rect x="1110" y="675" width="1" height="76" fill="#c0c0c0"/>
<rect x="1118" y="675" width="1" height="81" fill="#c0c0c0"/>
<rect x="1126" y="675" width="1" height="81" fill="#c0c0c0"/>
<rect x="1134" y="675" width="1" height="80" fill="#c0c0c0"/>
<rect x="1142" y="675" width="1" height="79" fill="#c0c0c0"/>
<rect x="1150" y="675" width="1" height="75" fill="#c0c0c0"/>
<rect x="1158" y="675" width="1" height="70" fill="#c0c0c0"/>
<rect x="1166" y="675" width="1" height="65" fill="#c0c0c0"/>
<rect x="1174" y="675" width="1" height="60" fill="#c0c0c0"/>
<rect x="1182" y="675" width="1" height="60" fill="#c0c0c0"/>
<rect x="1190" y="675" width="1" height="59" fill="#c0c0c0"/>
<rect x="1198" y="675" width="1" height="56" fill="#c0c0c0"/>
<rect x="1206" y="675" width="1" height="55" fill="#c0c0c0"/>
<rect x="1214" y="675" width="1" height="53" fill="#c0c0c0"/>
<rect x="1222" y="675" width="1" height="51" fill="#c0c0c0"/>
<rect x="1230" y="675" width="1" height="49" fill="#c0c0c0"/>
<rect x="1238" y="675" width="1" height="45" fill="#c0c0c0"/>
<rect x="1246" y="675" width="1" height="44" fill="#c0c0c0"/>
<rect x="1254" y="675" width="1" height="38" fill="#c0c0c0"/>
<rect x="1262" y="675" width="1" height="40" fill="#c0c0c0"/>
<rect x="1270" y="675" width="1" height="40" fill="#c0c0c0"/>
<rect x="1278" y="675" width="1" height="39" fill="#c0c0c0"/>
<rect x="1286" y="675" width="1" height="39" fill="#c0c0c0"/>
<rect x="1294" y="675" width="1" height="38" fill="#c0c0c0"/>
<rect x="1302" y="675" width="1" height="38" fill="#c0c0c0"/>
<rect x="1310" y="675" width="1" height="39" fill="#c0c0c0"/>
<rect x="1318" y="675" width="1" height="39" fill="#c0c0c0"/>
<polyline points="0.0,674.5 6.5,674.3 14.5,669.3 22.5,664.4 30.5,659.7 38.5,655.9 46.5,653.1 54.5,651.4 62.5,650.5 70.5,650.2 78.5,650.6 86.5,651.8 94.5,653.5 102.5,655.0 110.5,655.9 118.5,656.0 126.5,655.3 134.5,654.1 142.5,652.7 150.5,650.5 158.5,647.5 166.5,644.2 174.5,640.4 182.5,636.0 190.5,631.3 198.5,626.0 206.5,620.7 214.5,615.5 222.5,610.9 230.5,607.1 238.5,603.4 246.5,600.4 254.5,598.5 262.5,597.7 270.5,597.9 278.5,598.3 286.5,599.1 294.5,599.7 302.5,600.3 310.5,601.3 318.5,602.4 326.5,603.3 334.5,603.5 342.5,603.5 350.5,603.8 358.5,604.0 366.5,603.9 374.5,603.1 382.5,601.0 390.5,598.4 398.5,595.6 406.5,592.6 414.5,589.8 422.5,586.8 430.5,584.2 438.5,582.3 446.5,581.5 454.5,582.2 462.5,583.9 470.5,586.2 478.5,588.5 486.5,590.7 494.5,592.8 502.5,594.5 510.5,595.6 518.5,596.9 526.5,598.5 534.5,600.0 542.5,601.3 550.5,602.9 558.5,604.8 566.5,607.1 574.5,609.9 582.5,613.9 590.5,618.0 598.5,622.0 606.5,626.3 614.5,631.2 622.5,636.6 630.5,643.0 638.5,649.9 646.5,656.8 654.5,662.8 662.5,668.2 670.5,673.1 678.5,677.6 686.5,681.5 694.5,684.9 702.5,686.7 710.5,687.1 718.5,686.4 726.5,685.1 734.5,683.7 742.5,681.7 750.5,679.7 758.5,678.3 766.5,677.7 774.5,677.6 782.5,678.2 790.5,679.6 798.5,681.7 806.5,683.9 814.5,686.5 822.5,688.8 830.5,690.2 838.5,690.5 846.5,690.2 854.5,689.5 862.5,688.1 870.5,686.9 878.5,686.2 886.5,685.4 894.5,685.0 902.5,684.9 910.5,685.2 918.5,685.8 926.5,687.0 934.5,689.0 942.5,690.9 950.5,692.8 958.5,695.2 966.5,698.0 974.5,701.0 982.5,704.0 990.5,707.0 998.5,709.6 1006.5,711.6 1014.5,712.5 1022.5,712.2 1030.5,710.5 1038.5,707.8 1046.5,704.5 1054.5,701.5 1062.5,700.5 1070.5,701.0 1078.5,702.6 1086.5,705.6 1094.5,709.8 1102.5,715.7 1110.5,722.6 1118.5,730.4 1126.5,737.8 1134.5,743.1 1142.5,746.8 1150.5,749.3 1158.5,750.4 1166.5,750.5 1174.5,749.2 1182.5,747.4 1190.5,745.0 1198.5,742.1 1206.5,739.3 1214.5,736.4 1222.5,733.7 1230.5,731.5 1238.5,729.2 1246.5,727.4 1254.5,725.0 1262.5,722.9 1270.5,721.1 1278.5,719.4 1286.5,717.8 1294.5,716.4 1302.5,715.1 1310.5,714.4 1318.5,713.9" fill="none" stroke="#ff0000" stroke-width="1" stroke-dasharray="3 2"/>
</g>
<line x1="1252" y1="710.5" x2="1321" y2="714.8" stroke="#ff0000" stroke-width="3.6"/>
<polygon points="1317,709.8 1326.8,715.1 1315,719.4" fill="#ff0000"/>
<g clip-path="url(#crsi)">
<line x1="0" y1="801.5" x2="1626" y2="801.5" stroke="#c0c0c0" stroke-width="1" stroke-dasharray="3 3" shape-rendering="crispEdges"/>
<line x1="0" y1="848.5" x2="1626" y2="848.5" stroke="#c0c0c0" stroke-width="1" stroke-dasharray="3 3" shape-rendering="crispEdges"/>
<line x1="0" y1="904.5" x2="1626" y2="904.5" stroke="#c0c0c0" stroke-width="1" stroke-dasharray="3 3" shape-rendering="crispEdges"/>
<polyline points="0.0,828.3 6.5,822.0 14.5,824.6 22.5,823.4 30.5,822.3 38.5,839.3 46.5,848.1 54.5,850.4 62.5,842.4 70.5,840.8 78.5,843.0 86.5,849.1 94.5,839.4 102.5,829.5 110.5,830.7 118.5,828.1 126.5,825.8 134.5,826.8 142.5,825.2 150.5,814.0 158.5,815.9 166.5,814.8 174.5,803.8 182.5,801.2 190.5,801.8 198.5,796.7 206.5,812.4 214.5,811.4 222.5,813.6 230.5,818.8 238.5,810.3 246.5,808.5 254.5,817.4 262.5,825.4 270.5,820.4 278.5,816.9 286.5,818.5 294.5,815.5 302.5,819.9 310.5,817.4 318.5,812.2 326.5,811.5 334.5,807.6 342.5,813.6 350.5,816.1 358.5,812.4 366.5,807.7 374.5,800.7 382.5,795.1 390.5,794.9 398.5,801.6 406.5,799.2 414.5,809.3 422.5,808.3 430.5,810.2 438.5,820.5 446.5,817.4 454.5,817.4 462.5,815.0 470.5,815.0 478.5,804.3 486.5,809.2 494.5,812.1 502.5,808.1 510.5,806.2 518.5,828.6 526.5,836.9 534.5,825.0 542.5,823.7 550.5,821.6 558.5,825.8 566.5,834.7 574.5,834.6 582.5,850.0 590.5,847.0 598.5,851.4 606.5,842.9 614.5,853.5 622.5,852.3 630.5,868.5 638.5,868.5 646.5,859.0 654.5,855.3 662.5,853.5 670.5,859.5 678.5,854.0 686.5,855.6 694.5,854.1 702.5,848.3 710.5,842.5 718.5,836.2 726.5,838.5 734.5,844.0 742.5,841.0 750.5,847.5 758.5,861.8 766.5,866.6 774.5,861.4 782.5,858.8 790.5,861.5 798.5,862.9 806.5,858.8 814.5,861.2 822.5,851.4 830.5,849.3 838.5,843.5 846.5,845.6 854.5,847.6 862.5,836.9 870.5,862.1 878.5,864.8 886.5,854.6 894.5,856.3 902.5,857.0 910.5,856.1 918.5,856.9 926.5,867.1 934.5,867.1 942.5,872.0 950.5,878.2 958.5,879.2 966.5,884.2 974.5,873.2 982.5,873.3 990.5,873.6 998.5,873.6 1006.5,864.7 1014.5,848.7 1022.5,843.2 1030.5,836.7 1038.5,842.9 1046.5,843.9 1054.5,864.3 1062.5,890.0 1070.5,884.2 1078.5,878.7 1086.5,881.5 1094.5,877.7 1102.5,884.5 1110.5,883.4 1118.5,885.2 1126.5,879.2 1134.5,876.4 1142.5,877.7 1150.5,869.4 1158.5,866.1 1166.5,866.4 1174.5,862.8 1182.5,874.0 1190.5,870.3 1198.5,865.1 1206.5,870.0 1214.5,869.9 1222.5,866.9 1230.5,869.2 1238.5,859.3 1246.5,866.5 1254.5,852.1 1262.5,866.6 1270.5,865.0 1278.5,863.2 1286.5,864.7 1294.5,865.6 1302.5,867.2 1310.5,870.4 1318.5,870.6" fill="none" stroke="#1e90ff" stroke-width="1" shape-rendering="crispEdges"/>
</g>
<line x1="1244.5" y1="857.4" x2="1327" y2="873.8" stroke="#ff0000" stroke-width="3.9"/>
<polygon points="1326,868.8 1336,875.5 1323,877.8" fill="#ff0000"/>
<rect x="0" y="28" width="1627" height="1" fill="#000"/>
<rect x="1626" y="28" width="1" height="901" fill="#000"/>
<rect x="0" y="563" width="1627" height="1" fill="#000"/>
<rect x="0" y="565" width="1627" height="1" fill="#000"/>
<rect x="0" y="766" width="1627" height="1" fill="#000"/>
<rect x="0" y="768" width="1627" height="1" fill="#000"/>
<rect x="0" y="928" width="1627" height="1" fill="#000"/>
<rect x="1627" y="32" width="2" height="1" fill="#000"/>
<text x="1632" y="35" font-family="'Liberation Sans', sans-serif" font-size="9.7" fill="#000" text-anchor="start" font-weight="normal" textLength="32.5" lengthAdjust="spacingAndGlyphs" stroke="#000" stroke-width="0.15" >158.540</text>
<rect x="1627" y="65" width="2" height="1" fill="#000"/>
<text x="1632" y="68" font-family="'Liberation Sans', sans-serif" font-size="9.7" fill="#000" text-anchor="start" font-weight="normal" textLength="32.5" lengthAdjust="spacingAndGlyphs" stroke="#000" stroke-width="0.15" >158.050</text>
<rect x="1627" y="98" width="2" height="1" fill="#000"/>
<text x="1632" y="101" font-family="'Liberation Sans', sans-serif" font-size="9.7" fill="#000" text-anchor="start" font-weight="normal" textLength="32.5" lengthAdjust="spacingAndGlyphs" stroke="#000" stroke-width="0.15" >157.550</text>
<rect x="1627" y="131" width="2" height="1" fill="#000"/>
<text x="1632" y="134" font-family="'Liberation Sans', sans-serif" font-size="9.7" fill="#000" text-anchor="start" font-weight="normal" textLength="32.5" lengthAdjust="spacingAndGlyphs" stroke="#000" stroke-width="0.15" >157.060</text>
<rect x="1627" y="164" width="2" height="1" fill="#000"/>
<text x="1632" y="167" font-family="'Liberation Sans', sans-serif" font-size="9.7" fill="#000" text-anchor="start" font-weight="normal" textLength="32.5" lengthAdjust="spacingAndGlyphs" stroke="#000" stroke-width="0.15" >156.570</text>
<rect x="1627" y="197" width="2" height="1" fill="#000"/>
<text x="1632" y="200" font-family="'Liberation Sans', sans-serif" font-size="9.7" fill="#000" text-anchor="start" font-weight="normal" textLength="32.5" lengthAdjust="spacingAndGlyphs" stroke="#000" stroke-width="0.15" >156.070</text>
<rect x="1627" y="230" width="2" height="1" fill="#000"/>
<text x="1632" y="233" font-family="'Liberation Sans', sans-serif" font-size="9.7" fill="#000" text-anchor="start" font-weight="normal" textLength="32.5" lengthAdjust="spacingAndGlyphs" stroke="#000" stroke-width="0.15" >155.580</text>
<rect x="1627" y="263" width="2" height="1" fill="#000"/>
<text x="1632" y="266" font-family="'Liberation Sans', sans-serif" font-size="9.7" fill="#000" text-anchor="start" font-weight="normal" textLength="32.5" lengthAdjust="spacingAndGlyphs" stroke="#000" stroke-width="0.15" >155.090</text>
<rect x="1627" y="296" width="2" height="1" fill="#000"/>
<text x="1632" y="299" font-family="'Liberation Sans', sans-serif" font-size="9.7" fill="#000" text-anchor="start" font-weight="normal" textLength="32.5" lengthAdjust="spacingAndGlyphs" stroke="#000" stroke-width="0.15" >154.590</text>
<rect x="1627" y="329" width="2" height="1" fill="#000"/>
<text x="1632" y="332" font-family="'Liberation Sans', sans-serif" font-size="9.7" fill="#000" text-anchor="start" font-weight="normal" textLength="32.5" lengthAdjust="spacingAndGlyphs" stroke="#000" stroke-width="0.15" >154.100</text>
<rect x="1627" y="362" width="2" height="1" fill="#000"/>
<text x="1632" y="365" font-family="'Liberation Sans', sans-serif" font-size="9.7" fill="#000" text-anchor="start" font-weight="normal" textLength="32.5" lengthAdjust="spacingAndGlyphs" stroke="#000" stroke-width="0.15" >153.610</text>
<rect x="1627" y="395" width="2" height="1" fill="#000"/>
<text x="1632" y="398" font-family="'Liberation Sans', sans-serif" font-size="9.7" fill="#000" text-anchor="start" font-weight="normal" textLength="32.5" lengthAdjust="spacingAndGlyphs" stroke="#000" stroke-width="0.15" >153.110</text>
<rect x="1627" y="494" width="2" height="1" fill="#000"/>
<text x="1632" y="497" font-family="'Liberation Sans', sans-serif" font-size="9.7" fill="#000" text-anchor="start" font-weight="normal" textLength="32.5" lengthAdjust="spacingAndGlyphs" stroke="#000" stroke-width="0.15" >151.630</text>
<rect x="1627" y="527" width="2" height="1" fill="#000"/>
<text x="1632" y="530" font-family="'Liberation Sans', sans-serif" font-size="9.7" fill="#000" text-anchor="start" font-weight="normal" textLength="32.5" lengthAdjust="spacingAndGlyphs" stroke="#000" stroke-width="0.15" >151.140</text>
<rect x="1627" y="560" width="2" height="1" fill="#000"/>
<text x="1632" y="563" font-family="'Liberation Sans', sans-serif" font-size="9.7" fill="#000" text-anchor="start" font-weight="normal" textLength="32.5" lengthAdjust="spacingAndGlyphs" stroke="#000" stroke-width="0.15" >150.640</text>
<rect x="1628" y="380" width="41" height="11" fill="#ff4500"/>
<text x="1632" y="388.5" font-family="'Liberation Sans', sans-serif" font-size="9.7" fill="#fff" text-anchor="start" font-weight="normal" textLength="32.5" lengthAdjust="spacingAndGlyphs" stroke="#fff" stroke-width="0.15" >153.252</text>
<rect x="1628" y="401" width="41" height="11" fill="#ff0000"/>
<text x="1632" y="409.5" font-family="'Liberation Sans', sans-serif" font-size="9.7" fill="#fff" text-anchor="start" font-weight="normal" textLength="32.5" lengthAdjust="spacingAndGlyphs" stroke="#fff" stroke-width="0.15" >152.938</text>
<rect x="1628" y="423" width="41" height="11" fill="#32cd32"/>
<text x="1632" y="431.5" font-family="'Liberation Sans', sans-serif" font-size="9.7" fill="#fff" text-anchor="start" font-weight="normal" textLength="32.5" lengthAdjust="spacingAndGlyphs" stroke="#fff" stroke-width="0.15" >152.602</text>
<rect x="1628" y="433" width="41" height="11" fill="#000000"/>
<text x="1632" y="441.5" font-family="'Liberation Sans', sans-serif" font-size="9.7" fill="#fff" text-anchor="start" font-weight="normal" textLength="32.5" lengthAdjust="spacingAndGlyphs" stroke="#fff" stroke-width="0.15" >152.460</text>
<rect x="1628" y="456" width="41" height="11" fill="#0000ff"/>
<text x="1632" y="464.5" font-family="'Liberation Sans', sans-serif" font-size="9.7" fill="#fff" text-anchor="start" font-weight="normal" textLength="32.5" lengthAdjust="spacingAndGlyphs" stroke="#fff" stroke-width="0.15" >152.117</text>
<rect x="1628" y="476" width="41" height="11" fill="#0000ff"/>
<text x="1632" y="484.5" font-family="'Liberation Sans', sans-serif" font-size="9.7" fill="#fff" text-anchor="start" font-weight="normal" textLength="32.5" lengthAdjust="spacingAndGlyphs" stroke="#fff" stroke-width="0.15" >151.819</text>
<rect x="1627" y="566" width="3" height="1" fill="#000"/>
<text x="1632" y="576" font-family="'Liberation Sans', sans-serif" font-size="9.7" fill="#000" text-anchor="start" font-weight="normal" textLength="26.5" lengthAdjust="spacingAndGlyphs" stroke="#000" stroke-width="0.15" >1.0422</text>
<rect x="1627" y="675" width="3" height="1" fill="#000"/>
<text x="1632" y="679" font-family="'Liberation Sans', sans-serif" font-size="9.7" fill="#000" text-anchor="start" font-weight="normal" textLength="17" lengthAdjust="spacingAndGlyphs" stroke="#000" stroke-width="0.15" >0.00</text>
<rect x="1627" y="765" width="3" height="1" fill="#000"/>
<text x="1630" y="762" font-family="'Liberation Sans', sans-serif" font-size="9.7" fill="#000" text-anchor="start" font-weight="normal" textLength="31" lengthAdjust="spacingAndGlyphs" stroke="#000" stroke-width="0.15" >-0.8611</text>
<rect x="1627" y="769" width="3" height="1" fill="#000"/>
<text x="1630" y="779" font-family="'Liberation Sans', sans-serif" font-size="9.7" fill="#000" text-anchor="start" font-weight="normal" textLength="15" lengthAdjust="spacingAndGlyphs" stroke="#000" stroke-width="0.15" >100</text>
<text x="1629" y="805" font-family="'Liberation Sans', sans-serif" font-size="9.7" fill="#000" text-anchor="start" font-weight="normal" textLength="10" lengthAdjust="spacingAndGlyphs" stroke="#000" stroke-width="0.15" >80</text>
<text x="1629" y="852" font-family="'Liberation Sans', sans-serif" font-size="9.7" fill="#000" text-anchor="start" font-weight="normal" textLength="10" lengthAdjust="spacingAndGlyphs" stroke="#000" stroke-width="0.15" >50</text>
<text x="1629" y="908" font-family="'Liberation Sans', sans-serif" font-size="9.7" fill="#000" text-anchor="start" font-weight="normal" textLength="10" lengthAdjust="spacingAndGlyphs" stroke="#000" stroke-width="0.15" >15</text>
<text x="1630" y="925" font-family="'Liberation Sans', sans-serif" font-size="9.7" fill="#000" text-anchor="start" font-weight="normal" textLength="5" lengthAdjust="spacingAndGlyphs" stroke="#000" stroke-width="0.15" >0</text>
<text x="2" y="577" font-family="'Liberation Sans', sans-serif" font-size="9.7" fill="#000" text-anchor="start" font-weight="normal" textLength="134" lengthAdjust="spacingAndGlyphs" stroke="#000" stroke-width="0.15" >MACD(12,26,9) -0.3736 -0.3703</text>
<text x="2" y="780" font-family="'Liberation Sans', sans-serif" font-size="9.7" fill="#000" text-anchor="start" font-weight="normal" textLength="68" lengthAdjust="spacingAndGlyphs" stroke="#000" stroke-width="0.15" >RSI(14) 36.4693</text>
<polygon points="1,39.5 8,39.5 4.5,35" fill="#000"/>
<text x="13" y="40" font-family="'Liberation Sans', sans-serif" font-size="9.7" fill="#000" text-anchor="start" font-weight="normal" textLength="53" lengthAdjust="spacingAndGlyphs" stroke="#000" stroke-width="0.15" >GBPJPY-,H4</text>
<text x="72.2" y="40" font-family="'Liberation Sans', sans-serif" font-size="9.7" fill="#000" text-anchor="start" font-weight="normal" textLength="140.8" lengthAdjust="spacingAndGlyphs" stroke="#000" stroke-width="0.15" >152.456 152.485 152.384 152.460</text>
<text x="-3" y="941" font-family="'Liberation Sans', sans-serif" font-size="9.7" fill="#000" text-anchor="start" font-weight="normal" textLength="46" lengthAdjust="spacingAndGlyphs" stroke="#000" stroke-width="0.15" >5 Oct 2021</text>
<rect x="62" y="929" width="1" height="4" fill="#000"/>
<text x="61.5" y="941" font-family="'Liberation Sans', sans-serif" font-size="9.6" fill="#000" text-anchor="start" font-weight="normal" textLength="48.2" lengthAdjust="spacingAndGlyphs" stroke="#000" stroke-width="0.15" >6 Oct 16:00</text>
<rect x="126" y="929" width="1" height="4" fill="#000"/>
<text x="125.5" y="941" font-family="'Liberation Sans', sans-serif" font-size="9.6" fill="#000" text-anchor="start" font-weight="normal" textLength="48.2" lengthAdjust="spacingAndGlyphs" stroke="#000" stroke-width="0.15" >8 Oct 00:00</text>
<rect x="190" y="929" width="1" height="4" fill="#000"/>
<text x="189.5" y="941" font-family="'Liberation Sans', sans-serif" font-size="9.6" fill="#000" text-anchor="start" font-weight="normal" textLength="53.3" lengthAdjust="spacingAndGlyphs" stroke="#000" stroke-width="0.15" >11 Oct 08:00</text>
<rect x="254" y="929" width="1" height="4" fill="#000"/>
<text x="253.5" y="941" font-family="'Liberation Sans', sans-serif" font-size="9.6" fill="#000" text-anchor="start" font-weight="normal" textLength="53.3" lengthAdjust="spacingAndGlyphs" stroke="#000" stroke-width="0.15" >12 Oct 16:00</text>
<rect x="318" y="929" width="1" height="4" fill="#000"/>
<text x="317.5" y="941" font-family="'Liberation Sans', sans-serif" font-size="9.6" fill="#000" text-anchor="start" font-weight="normal" textLength="53.3" lengthAdjust="spacingAndGlyphs" stroke="#000" stroke-width="0.15" >14 Oct 00:00</text>
<rect x="382" y="929" width="1" height="4" fill="#000"/>
<text x="381.5" y="941" font-family="'Liberation Sans', sans-serif" font-size="9.6" fill="#000" text-anchor="start" font-weight="normal" textLength="53.3" lengthAdjust="spacingAndGlyphs" stroke="#000" stroke-width="0.15" >15 Oct 08:00</text>
<rect x="446" y="929" width="1" height="4" fill="#000"/>
<text x="445.5" y="941" font-family="'Liberation Sans', sans-serif" font-size="9.6" fill="#000" text-anchor="start" font-weight="normal" textLength="53.3" lengthAdjust="spacingAndGlyphs" stroke="#000" stroke-width="0.15" >18 Oct 16:00</text>
<rect x="510" y="929" width="1" height="4" fill="#000"/>
<text x="509.5" y="941" font-family="'Liberation Sans', sans-serif" font-size="9.6" fill="#000" text-anchor="start" font-weight="normal" textLength="53.3" lengthAdjust="spacingAndGlyphs" stroke="#000" stroke-width="0.15" >20 Oct 00:00</text>
<rect x="574" y="929" width="1" height="4" fill="#000"/>
<text x="573.5" y="941" font-family="'Liberation Sans', sans-serif" font-size="9.6" fill="#000" text-anchor="start" font-weight="normal" textLength="53.3" lengthAdjust="spacingAndGlyphs" stroke="#000" stroke-width="0.15" >21 Oct 08:00</text>
<rect x="638" y="929" width="1" height="4" fill="#000"/>
<text x="637.5" y="941" font-family="'Liberation Sans', sans-serif" font-size="9.6" fill="#000" text-anchor="start" font-weight="normal" textLength="53.3" lengthAdjust="spacingAndGlyphs" stroke="#000" stroke-width="0.15" >22 Oct 16:00</text>
<rect x="702" y="929" width="1" height="4" fill="#000"/>
<text x="701.5" y="941" font-family="'Liberation Sans', sans-serif" font-size="9.6" fill="#000" text-anchor="start" font-weight="normal" textLength="53.3" lengthAdjust="spacingAndGlyphs" stroke="#000" stroke-width="0.15" >26 Oct 00:00</text>
<rect x="766" y="929" width="1" height="4" fill="#000"/>
<text x="765.5" y="941" font-family="'Liberation Sans', sans-serif" font-size="9.6" fill="#000" text-anchor="start" font-weight="normal" textLength="53.3" lengthAdjust="spacingAndGlyphs" stroke="#000" stroke-width="0.15" >27 Oct 08:00</text>
<rect x="830" y="929" width="1" height="4" fill="#000"/>
<text x="829.5" y="941" font-family="'Liberation Sans', sans-serif" font-size="9.6" fill="#000" text-anchor="start" font-weight="normal" textLength="53.3" lengthAdjust="spacingAndGlyphs" stroke="#000" stroke-width="0.15" >28 Oct 16:00</text>
<rect x="894" y="929" width="1" height="4" fill="#000"/>
<text x="893.5" y="941" font-family="'Liberation Sans', sans-serif" font-size="9.6" fill="#000" text-anchor="start" font-weight="normal" textLength="51.5" lengthAdjust="spacingAndGlyphs" stroke="#000" stroke-width="0.15" >1 Nov 00:00</text>
<rect x="958" y="929" width="1" height="4" fill="#000"/>
<text x="957.5" y="941" font-family="'Liberation Sans', sans-serif" font-size="9.6" fill="#000" text-anchor="start" font-weight="normal" textLength="51.5" lengthAdjust="spacingAndGlyphs" stroke="#000" stroke-width="0.15" >2 Nov 08:00</text>
<rect x="1022" y="929" width="1" height="4" fill="#000"/>
<text x="1021.5" y="941" font-family="'Liberation Sans', sans-serif" font-size="9.6" fill="#000" text-anchor="start" font-weight="normal" textLength="51.5" lengthAdjust="spacingAndGlyphs" stroke="#000" stroke-width="0.15" >3 Nov 16:00</text>
<rect x="1086" y="929" width="1" height="4" fill="#000"/>
<text x="1085.5" y="941" font-family="'Liberation Sans', sans-serif" font-size="9.6" fill="#000" text-anchor="start" font-weight="normal" textLength="51.5" lengthAdjust="spacingAndGlyphs" stroke="#000" stroke-width="0.15" >5 Nov 00:00</text>
<rect x="1150" y="929" width="1" height="4" fill="#000"/>
<text x="1149.5" y="941" font-family="'Liberation Sans', sans-serif" font-size="9.6" fill="#000" text-anchor="start" font-weight="normal" textLength="51.5" lengthAdjust="spacingAndGlyphs" stroke="#000" stroke-width="0.15" >8 Nov 08:00</text>
<rect x="1214" y="929" width="1" height="4" fill="#000"/>
<text x="1213.5" y="941" font-family="'Liberation Sans', sans-serif" font-size="9.6" fill="#000" text-anchor="start" font-weight="normal" textLength="51.5" lengthAdjust="spacingAndGlyphs" stroke="#000" stroke-width="0.15" >9 Nov 16:00</text>
<rect x="1278" y="929" width="1" height="4" fill="#000"/>
<text x="1277.5" y="941" font-family="'Liberation Sans', sans-serif" font-size="9.6" fill="#000" text-anchor="start" font-weight="normal" textLength="56.7" lengthAdjust="spacingAndGlyphs" stroke="#000" stroke-width="0.15" >11 Nov 00:00</text>
<rect x="0" y="0" width="1673" height="24" fill="#f0f0f0"/>
<rect x="0" y="24" width="1673" height="1" fill="#a0a0a0"/>
<rect x="0" y="25" width="1673" height="1" fill="#696969"/>
<rect x="1672" y="26" width="1" height="921" fill="#e3e3e3"/>
<path d="M0.5,2.5 H6 L8.5,5 V15 H0.5 Z" fill="#fafafa" stroke="#9a9a9a" stroke-width="1"/>
<path d="M1,7 H7 M1,9.5 H6 M1,12 H7" stroke="#999" stroke-width="1"/>
<path d="M6.5,10.5 V21 M1.5,15.8 H11.5" stroke="#118811" stroke-width="4"/>
<path d="M6.5,11 V20.5 M2,15.8 H11" stroke="#22dd22" stroke-width="2"/>
<path transform="translate(16,4) scale(1.0)" d="M2.7,0.3L3.2,1.6 M0.5,2.2H5.6 M1.4,3L1.9,4.1 M4.3,3L3.7,4.1 M0.4,4.6H5.7 M0.6,7H5.5 M3,4.6V11.7 M3,7.6L0.4,10.6 M3,7.8L5.5,9.6 M10.9,0.6L7.1,2 M7.1,2V7.2Q7,9.8 6,11.6 M7.1,5H11.7 M9.6,5V11.7" fill="none" stroke="#000" stroke-width="1.0" stroke-linecap="square"/>
<path transform="translate(28,4) scale(1.0)" d="M0.9,0.8L2.1,2.1 M0.4,4.1H2.1V10.2L3.6,8.7 M4.4,1.6H11.7 M8.6,1.6V11.2L7,10.2" fill="none" stroke="#000" stroke-width="1.0" stroke-linecap="square"/>
<path transform="translate(40,4) scale(1.0)" d="M3,0.4L3.9,1.6 M9,0.4L8,1.6 M2,2.6H10V8.1H2Z M2,5.3H10 M6,2.6V11.8 M0.3,9.7H11.7" fill="none" stroke="#000" stroke-width="1.0" stroke-linecap="square"/>
<path d="M69.6,5.5 L78.7,11.2 L79.9,14.5 L71.8,19.7 L64.2,13.7 L68.2,8.5 Z" fill="#e8c020" stroke="#a06810" stroke-width="1"/>
<path d="M66,14 L72.5,18.3" stroke="#f8e8a0" stroke-width="1.4"/>
<path d="M70,7 L77.5,11.8" stroke="#fff0a0" stroke-width="1"/>
<path d="M94,4.3 H103 L105,6 V13 H94 Z" fill="#0a90f0"/>
<path d="M95,5 L98,7.5 V13" stroke="#d8f0ff" stroke-width="0.9" fill="none"/>
<rect x="99" y="9" width="5" height="1.3" fill="#d8f0ff"/>
<path d="M93.5,19.3 Q92,16 95.5,15.6 Q96.5,12.8 100,13.5 Q101.5,11.8 104,13.8 Q107.5,14 107.5,17 Q108.5,19.3 106,19.5 Z" fill="#e4e8f0" stroke="#3a5890" stroke-width="1"/>
<circle cx="128" cy="12" r="7.5" fill="none" stroke="#7aa8e0" stroke-width="1"/>
<circle cx="128" cy="12" r="5" fill="none" stroke="#5a90d8" stroke-width="1"/>
<circle cx="128" cy="12" r="2.5" fill="none" stroke="#3a78d0" stroke-width="1"/>
<circle cx="128" cy="12" r="1.3" fill="#2050c0"/>
<path d="M128.5,12 V19.5 L133,17" stroke="#20a020" stroke-width="1.5" fill="none"/>
<path d="M131,7 A7,7 0 0 1 132,18" stroke="#60b060" stroke-width="1.2" fill="none"/>
<path d="M147.2,12.5 L162.6,11.2 L154.7,19.5 Z" fill="#f0d840" stroke="#c0a030" stroke-width="0.8"/>
<ellipse cx="155" cy="9.5" rx="7.5" ry="2.5" fill="#5ab0e0" stroke="#3080b0" stroke-width="0.8"/>
<ellipse cx="155" cy="7.5" rx="4" ry="3" fill="#70c0ec" stroke="#3080b0" stroke-width="0.8"/>
<circle cx="159.5" cy="15.5" r="4.2" fill="#d02010"/>
<rect x="157.8" y="13.8" width="3.4" height="3.4" fill="#fff"/>
<path transform="translate(169.0,4.5) scale(0.9833333333333334)" d="M6.2,0L5.2,1.6 M2.2,1.8H9.8V11.6H2.2Z M2.2,5H9.8 M2.2,8.2H9.8" fill="none" stroke="#000" stroke-width="1.0169491525423728" stroke-linecap="square"/>
<path transform="translate(180.8,4.5) scale(0.9833333333333334)" d="M0.6,1.6H5 M0.2,4.2H5.6 M2.6,4.2L0.6,9.2L5.2,8.6 M4,7L5.6,9.8 M6.4,3.2H11V11.2L9.9,10.6 M8.9,0.4V6Q8.5,9.5 6.3,11.7" fill="none" stroke="#000" stroke-width="1.0169491525423728" stroke-linecap="square"/>
<path transform="translate(192.6,4.5) scale(0.9833333333333334)" d="M5.9,0L6.5,1.3 M0.4,2.7H11.6 M4.1,3.7L2,5.7 M7.9,3.7L10,5.7 M3.4,6.2Q6,10.5 11,11.7 M8.6,6.2Q6.5,10.3 0.8,11.7" fill="none" stroke="#000" stroke-width="1.0169491525423728" stroke-linecap="square"/>
<path transform="translate(204.4,4.5) scale(0.9833333333333334)" d="M3.2,0.6H8.8V5H3.2Z M3.2,2.8H8.8 M3.8,5.4L1,8.2 M3,6.6H10.7Q10.6,10 9.9,11.7L8.9,11.2 M5.7,7L3.5,11.2 M8.1,7L6,11.2" fill="none" stroke="#000" stroke-width="1.0169491525423728" stroke-linecap="square"/>
<rect x="223" y="1" width="1" height="21" fill="#a0a0a0"/><rect x="224" y="1" width="1" height="21" fill="#ffffff"/>
<rect x="227" y="2" width="3" height="1" fill="#9a9a9a"/>
<rect x="227" y="4" width="3" height="1" fill="#9a9a9a"/>
<rect x="227" y="6" width="3" height="1" fill="#9a9a9a"/>
<rect x="227" y="8" width="3" height="1" fill="#9a9a9a"/>
<rect x="227" y="10" width="3" height="1" fill="#9a9a9a"/>
<rect x="227" y="12" width="3" height="1" fill="#9a9a9a"/>
<rect x="227" y="14" width="3" height="1" fill="#9a9a9a"/>
<rect x="227" y="16" width="3" height="1" fill="#9a9a9a"/>
<rect x="227" y="18" width="3" height="1" fill="#9a9a9a"/>
<rect x="227" y="20" width="3" height="1" fill="#9a9a9a"/>
<path d="M241.5,19.5 V6.5 M239.5,8.5 L241.5,6.2 L243.5,8.5 M239,17.5 H253.5 M251.2,15.5 L253.5,17.5 L251.2,19.5" stroke="#555" stroke-width="1.15" fill="none"/>
<path d="M247.5,7 V15.5 M247.5,8.5 H250.5 M247.5,14.5 H245" stroke="#108010" stroke-width="1.3" fill="none"/>
<rect x="261" y="0" width="25" height="23" fill="#fafafa"/><rect x="261" y="0" width="25" height="1" fill="#a0a0a0"/><rect x="261" y="0" width="1" height="23" fill="#a0a0a0"/>
<path d="M269.5,19.5 V6.5 M267.5,8.5 L269.5,6.2 L271.5,8.5 M267,17.5 H281.5 M279.2,15.5 L281.5,17.5 L279.2,19.5" stroke="#555" stroke-width="1.15" fill="none"/>
<rect x="275.5" y="4" width="1.2" height="12" fill="#108010"/>
<rect x="273.5" y="6.5" width="4.5" height="7.3" fill="#40e060" stroke="#108010" stroke-width="1"/>
<path d="M297.5,19.5 V6.5 M295.5,8.5 L297.5,6.2 L299.5,8.5 M295,17.5 H309.5 M307.2,15.5 L309.5,17.5 L307.2,19.5" stroke="#555" stroke-width="1.15" fill="none"/>
<path d="M296,14.5 Q299,10 302,9 Q304,9 308,13" stroke="#30a030" stroke-width="1.2" fill="none"/>
<rect x="318" y="1" width="1" height="21" fill="#a0a0a0"/><rect x="319" y="1" width="1" height="21" fill="#ffffff"/>
<path d="M336,13 L341.5,19" stroke="#c09010" stroke-width="2.6"/>
<path d="M336.5,13.5 L341,18.5" stroke="#f0d050" stroke-width="1.2"/>
<circle cx="333" cy="10" r="5.2" fill="#dff0ff" stroke="#3a80d0" stroke-width="1.3"/>
<rect x="330" y="9.2" width="6" height="1.8" fill="#4a88b8"/>
<rect x="332.1" y="7" width="1.8" height="6" fill="#4a88b8"/>
<path d="M364,13 L369.5,19" stroke="#c09010" stroke-width="2.6"/>
<path d="M364.5,13.5 L369,18.5" stroke="#f0d050" stroke-width="1.2"/>
<circle cx="361" cy="10" r="5.2" fill="#dff0ff" stroke="#3a80d0" stroke-width="1.3"/>
<rect x="358" y="9.2" width="6" height="1.8" fill="#4a88b8"/>
<rect x="383" y="4" width="8" height="8" fill="#30a030"/>
<rect x="384.5" y="7" width="5" height="3.5" fill="#fff"/>
<rect x="391" y="4" width="8" height="8" fill="#2060d0"/>
<rect x="392.5" y="7" width="5" height="3.5" fill="#fff"/>
<rect x="383" y="12" width="8" height="8" fill="#2060d0"/>
<rect x="384.5" y="15" width="5" height="3.5" fill="#fff"/>
<rect x="391" y="12" width="8" height="8" fill="#30a030"/>
<rect x="392.5" y="15" width="5" height="3.5" fill="#fff"/>
<rect x="408" y="1" width="1" height="21" fill="#a0a0a0"/><rect x="409" y="1" width="1" height="21" fill="#ffffff"/>
<rect x="413" y="0" width="25" height="23" fill="#fafafa"/><rect x="413" y="0" width="25" height="1" fill="#a0a0a0"/><rect x="413" y="0" width="1" height="23" fill="#a0a0a0"/>
<path d="M421.5,19.5 V6.5 M419.5,8.5 L421.5,6.2 L423.5,8.5 M419,17.5 H433.5 M431.2,15.5 L433.5,17.5 L431.2,19.5" stroke="#555" stroke-width="1.15" fill="none"/>
<polygon points="425.5,7.5 425.5,15.5 431,11.5" fill="#a0f0b0" stroke="#20a040" stroke-width="1"/>
<rect x="441" y="0" width="25" height="23" fill="#fafafa"/><rect x="441" y="0" width="25" height="1" fill="#a0a0a0"/><rect x="441" y="0" width="1" height="23" fill="#a0a0a0"/>
<path d="M449.5,19.5 V6.5 M447.5,8.5 L449.5,6.2 L451.5,8.5 M447,17.5 H461.5 M459.2,15.5 L461.5,17.5 L459.2,19.5" stroke="#555" stroke-width="1.15" fill="none"/>
<rect x="455" y="6" width="1.2" height="10" fill="#1a70b0"/>
<path d="M461,11.5 H457 M459.5,9.2 L457,11.5 L459.5,13.8" stroke="#e05010" stroke-width="1.4" fill="none"/>
<rect x="470" y="1" width="1" height="21" fill="#a0a0a0"/><rect x="471" y="1" width="1" height="21" fill="#ffffff"/>
<path d="M480.5,4.5 H489 L491.5,7 V17.5 H480.5 Z" fill="#fafafa" stroke="#888" stroke-width="1"/>
<text x="482" y="13" font-family="Liberation Serif" font-style="italic" font-size="8" fill="#666">f</text>
<path d="M490,10 V21 M484.5,15.5 H495.5" stroke="#119911" stroke-width="4"/>
<path d="M490,10.5 V20.5 M485,15.5 H495" stroke="#33ee33" stroke-width="2"/>
<polygon points="502,12 508,12 505,15" fill="#000"/>
<circle cx="526" cy="12" r="8" fill="#1f78d8" stroke="#0a4aa0" stroke-width="0.8"/>
<circle cx="526" cy="12" r="5.7" fill="#f6f9ff" stroke="#7fb8f0" stroke-width="0.6"/>
<path d="M526,7 V8 M526,16 V17 M521,12 H522 M530,12 H531" stroke="#8aa0c0" stroke-width="0.8"/>
<path d="M525.5,8.3 V12.5 L528.8,13" stroke="#222" stroke-width="1" fill="none"/>
<polygon points="541,12 547,12 544,15" fill="#000"/>
<rect x="557.5" y="5.5" width="15" height="13" fill="#fff" stroke="#2a6ac8" stroke-width="1.2"/>
<rect x="558" y="6" width="14" height="2" fill="#4a8ae0"/>
<rect x="558" y="12.5" width="14" height="1" fill="#2a6ac8"/>
<path d="M559,11.5 L561,11.5 L563,10 L565,11 L567,9.8 L570,10" stroke="#a03010" stroke-width="1" fill="none"/>
<path d="M559,16.5 L561,16 L563,16.5 L566,14.5 L568,15 L570,16.5" stroke="#10a010" stroke-width="1" fill="none"/>
<polygon points="579,12 585,12 582,15" fill="#000"/>
<rect x="591" y="0" width="1" height="24" fill="#a0a0a0"/><rect x="592" y="0" width="1" height="24" fill="#fff"/>
<rect x="595" y="2" width="3" height="1" fill="#9a9a9a"/>
<rect x="595" y="4" width="3" height="1" fill="#9a9a9a"/>
<rect x="595" y="6" width="3" height="1" fill="#9a9a9a"/>
<rect x="595" y="8" width="3" height="1" fill="#9a9a9a"/>
<rect x="595" y="10" width="3" height="1" fill="#9a9a9a"/>
<rect x="595" y="12" width="3" height="1" fill="#9a9a9a"/>
<rect x="595" y="14" width="3" height="1" fill="#9a9a9a"/>
<rect x="595" y="16" width="3" height="1" fill="#9a9a9a"/>
<rect x="595" y="18" width="3" height="1" fill="#9a9a9a"/>
<rect x="595" y="20" width="3" height="1" fill="#9a9a9a"/>
<rect x="601" y="0" width="25" height="23" fill="#fafafa"/><rect x="601" y="0" width="25" height="1" fill="#a0a0a0"/><rect x="601" y="0" width="1" height="23" fill="#a0a0a0"/>
<path d="M609,5 L609,16 L611.5,13.5 L613.5,18.5 L615.5,17.5 L613.5,12.5 L617,12.5 Z" fill="#505050"/>
<path d="M641.5,5 V10.5 M641.5,13.5 V20 M634,12.5 H639.5 M643.5,12.5 H649.5" stroke="#505050" stroke-width="1" shape-rendering="crispEdges"/>
<rect x="658" y="1" width="1" height="21" fill="#a0a0a0"/><rect x="659" y="1" width="1" height="21" fill="#ffffff"/>
<rect x="675" y="6" width="1.6" height="13" fill="#404040"/>
<rect x="698" y="11.5" width="12" height="1.6" fill="#404040"/>
<path d="M726,19 L738,7" stroke="#404040" stroke-width="1.3"/>
<path d="M752,13 L762,4 M752,17 L762,8 M754,15 L759,6 M757,17 L762,12" stroke="#404040" stroke-width="1.1"/>
<text x="763" y="20.5" font-family="Liberation Sans" font-weight="bold" font-size="6.5" fill="#404040">E</text>
<path d="M781,5.5 H794" stroke="#505050" stroke-width="1" stroke-dasharray="1 1"/>
<path d="M781,8.5 H794" stroke="#505050" stroke-width="1" stroke-dasharray="1 1"/>
<path d="M781,12.5 H794" stroke="#505050" stroke-width="1" stroke-dasharray="1 1"/>
<path d="M781,16.5 H794" stroke="#505050" stroke-width="1" stroke-dasharray="1 1"/>
<text x="790.5" y="20.5" font-family="Liberation Sans" font-weight="bold" font-size="6.5" fill="#404040">F</text>
<text x="811.5" y="17.5" font-family="Liberation Sans" font-size="12" fill="#505050">A</text>
<rect x="838.5" y="5.5" width="11.5" height="13" fill="none" stroke="#505050" stroke-width="1" stroke-dasharray="1 1"/>
<path d="M840.5,8.5 H848 M844.2,8.5 V16.5" stroke="#505050" stroke-width="1.6"/>
<polygon points="865,9.5 868.5,6 872,9.5 868.5,10.5" fill="#505050"/>
<polygon points="872,16 875.5,12.5 879,16 875.5,19.5" fill="#505050"/>
<path d="M867.5,12.5 L870,15 L874,10.5" stroke="#505050" stroke-width="1.1" fill="none"/>
<polygon points="886,12 892,12 889,15" fill="#000"/>
<rect x="897" y="1" width="1" height="21" fill="#a0a0a0"/><rect x="898" y="1" width="1" height="21" fill="#ffffff"/>
<rect x="900" y="2" width="3" height="1" fill="#9a9a9a"/>
<rect x="900" y="4" width="3" height="1" fill="#9a9a9a"/>
<rect x="900" y="6" width="3" height="1" fill="#9a9a9a"/>
<rect x="900" y="8" width="3" height="1" fill="#9a9a9a"/>
<rect x="900" y="10" width="3" height="1" fill="#9a9a9a"/>
<rect x="900" y="12" width="3" height="1" fill="#9a9a9a"/>
<rect x="900" y="14" width="3" height="1" fill="#9a9a9a"/>
<rect x="900" y="16" width="3" height="1" fill="#9a9a9a"/>
<rect x="900" y="18" width="3" height="1" fill="#9a9a9a"/>
<rect x="900" y="20" width="3" height="1" fill="#9a9a9a"/>
<rect x="1047" y="0" width="26" height="23" fill="#fafafa"/><rect x="1047" y="0" width="26" height="1" fill="#a0a0a0"/><rect x="1047" y="0" width="1" height="23" fill="#a0a0a0"/>
<text x="911.8" y="16" font-family="'Liberation Sans', sans-serif" font-size="10.6" fill="#303030" textLength="13.8" lengthAdjust="spacingAndGlyphs">M1</text>
<text x="940.7" y="16" font-family="'Liberation Sans', sans-serif" font-size="10.6" fill="#303030" textLength="13.1" lengthAdjust="spacingAndGlyphs">M5</text>
<text x="966" y="16" font-family="'Liberation Sans', sans-serif" font-size="10.6" fill="#303030" textLength="18.7" lengthAdjust="spacingAndGlyphs">M15</text>
<text x="994" y="16" font-family="'Liberation Sans', sans-serif" font-size="10.6" fill="#303030" textLength="19" lengthAdjust="spacingAndGlyphs">M30</text>
<text x="1025.6" y="16" font-family="'Liberation Sans', sans-serif" font-size="10.6" fill="#303030" textLength="11.8" lengthAdjust="spacingAndGlyphs">H1</text>
<text x="1052.5" y="16" font-family="'Liberation Sans', sans-serif" font-size="10.6" fill="#303030" textLength="13.1" lengthAdjust="spacingAndGlyphs">H4</text>
<text x="1081.4" y="16" font-family="'Liberation Sans', sans-serif" font-size="10.6" fill="#303030" textLength="12.6" lengthAdjust="spacingAndGlyphs">D1</text>
<text x="1108.6" y="16" font-family="'Liberation Sans', sans-serif" font-size="10.6" fill="#303030" textLength="15.4" lengthAdjust="spacingAndGlyphs">W1</text>
<text x="1135.5" y="16" font-family="'Liberation Sans', sans-serif" font-size="10.6" fill="#303030" textLength="15.5" lengthAdjust="spacingAndGlyphs">MN</text>
<rect x="1158" y="0" width="1" height="24" fill="#a0a0a0"/><rect x="1159" y="0" width="1" height="24" fill="#fff"/>
<circle cx="1628.5" cy="9.3" r="3.8" fill="#f4f8ff" stroke="#2a64d0" stroke-width="1.6"/>
<path d="M1625.8,12 L1621.5,16.5" stroke="#2a64d0" stroke-width="2.2"/>
<ellipse cx="1650.5" cy="14" rx="5.5" ry="4.3" fill="#e8e8f0" stroke="#a0a0a0" stroke-width="1"/>
<path d="M1647.5,17.5 L1648.5,20.5 L1651,18" fill="#e8e8f0" stroke="#909090" stroke-width="0.8"/>
<circle cx="1659.5" cy="9.3" r="8.2" fill="#e03a20"/>
<path d="M1658,6.2 L1660,4.8 V14" stroke="#fff" stroke-width="1.5" fill="none"/>
<defs><linearGradient id="bg1" x1="0" y1="48" x2="0" y2="105" gradientUnits="userSpaceOnUse"><stop offset="0" stop-color="#5c5cff"/><stop offset="0.42" stop-color="#3030e6"/><stop offset="1" stop-color="#0000b4"/></linearGradient></defs>
<path d="M1.5,48.5 H52.5 V72.5 H109.5 V104.5 H1.5 Z" fill="url(#bg1)" stroke="#0000a0" stroke-width="1"/>
<path d="M112.5,72.5 H168.5 V48.5 H220.5 V104.5 H112.5 Z" fill="url(#bg1)" stroke="#0000a0" stroke-width="1"/>
<rect x="5" y="72" width="44" height="1" fill="#8080ff"/>
<rect x="172" y="72" width="44" height="1" fill="#8080ff"/>
<text x="13.5" y="64" font-family="'Liberation Sans', sans-serif" font-size="12.5" fill="#fff" textLength="25.7" lengthAdjust="spacingAndGlyphs">SELL</text>
<text x="182" y="64" font-family="'Liberation Sans', sans-serif" font-size="12.5" fill="#fff" textLength="23" lengthAdjust="spacingAndGlyphs">BUY</text>
<rect x="55.5" y="48.5" width="110" height="21" fill="#fff" stroke="#a8a8a8" stroke-width="1"/>
<rect x="56" y="49" width="20" height="20" fill="#e6e6e6"/>
<rect x="76" y="49" width="1" height="20" fill="#a8a8a8"/>
<rect x="145" y="49" width="20" height="20" fill="#e6e6e6"/>
<rect x="144" y="49" width="1" height="20" fill="#a8a8a8"/>
<polygon points="63,56.5 68.5,56.5 65.75,59.5" fill="#000"/>
<polygon points="151.5,59.5 157,59.5 154.25,56.5" fill="#000"/>
<text x="140.5" y="63" font-family="'Liberation Sans', sans-serif" font-size="12" fill="#000" text-anchor="end">1.00</text>
<text x="24.5" y="100.3" font-family="'Liberation Sans', sans-serif" font-size="12" font-weight="bold" fill="#fff" textLength="20.7" lengthAdjust="spacingAndGlyphs">152</text>
<text x="48" y="100.3" font-family="'Liberation Sans', sans-serif" font-size="33.5" fill="#fff" textLength="36" lengthAdjust="spacingAndGlyphs">46</text>
<text x="88" y="84" font-family="'Liberation Sans', sans-serif" font-size="11" font-weight="bold" fill="#fff">0</text>
<text x="135" y="100.3" font-family="'Liberation Sans', sans-serif" font-size="12" font-weight="bold" fill="#fff" textLength="20.7" lengthAdjust="spacingAndGlyphs">152</text>
<text x="159.5" y="100.3" font-family="'Liberation Sans', sans-serif" font-size="33.5" fill="#fff" textLength="31" lengthAdjust="spacingAndGlyphs">61</text>
<text x="199.5" y="84" font-family="'Liberation Sans', sans-serif" font-size="11" font-weight="bold" fill="#fff">3</text>
</svg>
</div></body></html>
